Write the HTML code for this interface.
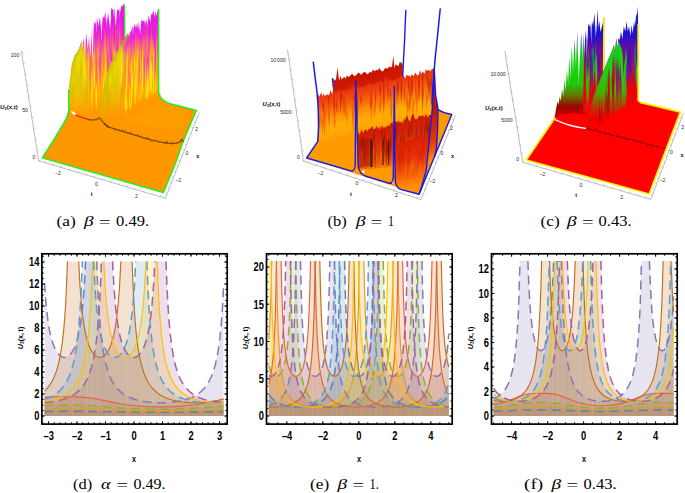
<!DOCTYPE html>
<html><head><meta charset="utf-8"><title>Figure</title>
<style>
html,body{margin:0;padding:0;background:#fff;}
body{width:685px;height:493px;overflow:hidden;font-family:"Liberation Sans",sans-serif;}
svg{display:block;}
</style></head><body>
<svg width="685" height="493" viewBox="0 0 685 493">
<defs>

<linearGradient id="ga" gradientUnits="userSpaceOnUse" x1="0" y1="0" x2="0" y2="125">
<stop offset="0" stop-color="#E312E6"/><stop offset="0.30" stop-color="#EA22DC"/><stop offset="0.42" stop-color="#F65CA0"/>
<stop offset="0.52" stop-color="#FF8838"/><stop offset="0.64" stop-color="#FFB010"/><stop offset="0.76" stop-color="#FFA808"/>
<stop offset="0.88" stop-color="#FF9A00"/><stop offset="1" stop-color="#FF9500"/>
</linearGradient>
<linearGradient id="gav" gradientUnits="userSpaceOnUse" x1="0" y1="-28" x2="0" y2="97">
<stop offset="0" stop-color="#E312E6"/><stop offset="0.30" stop-color="#EA22DC"/><stop offset="0.42" stop-color="#F65CA0"/>
<stop offset="0.52" stop-color="#FF8838"/><stop offset="0.64" stop-color="#FFB010"/><stop offset="0.76" stop-color="#FFA808"/>
<stop offset="0.88" stop-color="#FF9A00"/><stop offset="1" stop-color="#FF9500"/>
</linearGradient>
<linearGradient id="gad" gradientUnits="userSpaceOnUse" x1="0" y1="22" x2="0" y2="147">
<stop offset="0" stop-color="#E312E6"/><stop offset="0.30" stop-color="#EA22DC"/><stop offset="0.42" stop-color="#F65CA0"/>
<stop offset="0.52" stop-color="#FF8838"/><stop offset="0.64" stop-color="#FFB010"/><stop offset="0.76" stop-color="#FFA808"/>
<stop offset="0.88" stop-color="#FF9A00"/><stop offset="1" stop-color="#FF9500"/>
</linearGradient>
<linearGradient id="gay" gradientUnits="userSpaceOnUse" x1="0" y1="40" x2="0" y2="122">
<stop offset="0" stop-color="#E6D800"/><stop offset="0.5" stop-color="#EED800"/><stop offset="0.72" stop-color="#F8B800"/><stop offset="0.9" stop-color="#FF9C00"/><stop offset="1" stop-color="#FF9700"/>
</linearGradient>
<linearGradient id="gaf1" gradientUnits="userSpaceOnUse" x1="68" y1="0" x2="80" y2="0">
<stop offset="0" stop-color="#D0CA00" stop-opacity="0.9"/><stop offset="0.5" stop-color="#E8D800" stop-opacity="0.6"/><stop offset="1" stop-color="#F0DC00" stop-opacity="0"/>
</linearGradient>
<linearGradient id="gaf2" gradientUnits="userSpaceOnUse" x1="101" y1="0" x2="118" y2="-5">
<stop offset="0" stop-color="#CCC600" stop-opacity="0.9"/><stop offset="0.45" stop-color="#E8D800" stop-opacity="0.6"/><stop offset="1" stop-color="#F4DC00" stop-opacity="0"/>
</linearGradient>
<filter id="blur1" x="-20%" y="-50%" width="140%" height="200%"><feGaussianBlur stdDeviation="0.7"/></filter>
<filter id="blur3" x="-50%" y="-20%" width="200%" height="140%"><feGaussianBlur stdDeviation="1.6"/></filter>
<filter id="blur2" x="-20%" y="-20%" width="140%" height="140%"><feGaussianBlur stdDeviation="0.45"/></filter>

<linearGradient id="gbB" gradientUnits="userSpaceOnUse" x1="332.7" y1="76" x2="339.4" y2="105.2"><stop offset="0" stop-color="#C41200"/><stop offset="0.5" stop-color="#D01A00"/><stop offset="1" stop-color="#DC2800"/></linearGradient><linearGradient id="gbL" gradientUnits="userSpaceOnUse" x1="317.8" y1="92" x2="329.4" y2="142.7"><stop offset="0" stop-color="#DC1C00"/><stop offset="0.1" stop-color="#E83410"/><stop offset="0.3" stop-color="#F4580C"/><stop offset="0.5" stop-color="#FF8A08"/><stop offset="0.68" stop-color="#FFAC08"/><stop offset="0.82" stop-color="#FFAA04"/><stop offset="0.95" stop-color="#FF9C00"/><stop offset="1" stop-color="#FF9A00"/></linearGradient><linearGradient id="gbM" gradientUnits="userSpaceOnUse" x1="356" y1="129" x2="366.3" y2="173.8"><stop offset="0" stop-color="#C81800"/><stop offset="0.3" stop-color="#D42408"/><stop offset="0.6" stop-color="#E03808"/><stop offset="0.85" stop-color="#F06008"/><stop offset="1" stop-color="#FF8A00"/></linearGradient><linearGradient id="gbF" gradientUnits="userSpaceOnUse" x1="397" y1="143" x2="407.3" y2="187.8"><stop offset="0" stop-color="#D82000"/><stop offset="0.35" stop-color="#E83008"/><stop offset="0.7" stop-color="#F45C08"/><stop offset="1" stop-color="#FF9000"/></linearGradient>
<linearGradient id="gc" gradientUnits="userSpaceOnUse" x1="0" y1="0" x2="0" y2="118"><stop offset="0" stop-color="#2A22D8"/><stop offset="0.28" stop-color="#1A12D0"/><stop offset="0.42" stop-color="#6A0CA0"/><stop offset="0.56" stop-color="#B00858"/><stop offset="0.72" stop-color="#E00410"/><stop offset="1" stop-color="#FF0000"/></linearGradient><linearGradient id="gcv" gradientUnits="userSpaceOnUse" x1="0" y1="-26" x2="0" y2="92"><stop offset="0" stop-color="#2A22D8"/><stop offset="0.28" stop-color="#1A12D0"/><stop offset="0.42" stop-color="#6A0CA0"/><stop offset="0.56" stop-color="#B00858"/><stop offset="0.72" stop-color="#E00410"/><stop offset="1" stop-color="#FF0000"/></linearGradient><linearGradient id="gcd" gradientUnits="userSpaceOnUse" x1="0" y1="22" x2="0" y2="140"><stop offset="0" stop-color="#2A22D8"/><stop offset="0.28" stop-color="#1A12D0"/><stop offset="0.42" stop-color="#6A0CA0"/><stop offset="0.56" stop-color="#B00858"/><stop offset="0.72" stop-color="#E00410"/><stop offset="1" stop-color="#FF0000"/></linearGradient>
<linearGradient id="gcs" gradientUnits="userSpaceOnUse" x1="0" y1="20" x2="0" y2="120">
<stop offset="0" stop-color="#2018D0"/><stop offset="0.16" stop-color="#1C28C0"/><stop offset="0.28" stop-color="#10B030"/><stop offset="0.4" stop-color="#10D410"/><stop offset="0.64" stop-color="#20C808"/><stop offset="0.76" stop-color="#6A7000"/><stop offset="0.86" stop-color="#980800"/><stop offset="0.95" stop-color="#C00000"/><stop offset="1" stop-color="#F00000"/>
</linearGradient>
<linearGradient id="gcg" gradientUnits="userSpaceOnUse" x1="0" y1="25" x2="0" y2="118">
<stop offset="0" stop-color="#10C820"/><stop offset="0.5" stop-color="#14D810"/><stop offset="0.72" stop-color="#3CB400"/><stop offset="0.86" stop-color="#A84800"/><stop offset="1" stop-color="#F00000"/>
</linearGradient>


</defs>
<rect width="685" height="493" fill="#fff"/>
<g id="p3a">
<path d="M21.3 50.4 L38.6 160.8 L165.3 198.3 L199.3 112.6" fill="none" stroke="#7a7a7a" stroke-width="0.5"/>
<path d="M38.6 160.8 l1.6 0.2 M36.9 150 l1.6 0.2 M35.2 139.1 l1.6 0.2 M33.5 128.3 l1.6 0.2 M31.8 117.5 l1.6 0.2 M30.1 106.7 l1.6 0.2 M28.4 95.8 l1.6 0.2 M26.7 85 l1.6 0.2 M25 74.2 l1.6 0.2 M23.3 63.3 l1.6 0.2 M21.6 52.5 l1.6 0.2" stroke="#7a7a7a" stroke-width="0.4" fill="none"/>
<path d="M45 162.7 l0.5 -1.6 M53.2 165.1 l0.5 -1.6 M61.4 167.6 l0.5 -1.6 M69.6 170 l0.5 -1.6 M77.9 172.4 l0.5 -1.6 M86.1 174.8 l0.5 -1.6 M94.3 177.3 l0.5 -1.6 M102.5 179.7 l0.5 -1.6 M110.7 182.1 l0.5 -1.6 M118.9 184.6 l0.5 -1.6 M127.1 187 l0.5 -1.6 M135.4 189.4 l0.5 -1.6 M143.6 191.8 l0.5 -1.6 M151.8 194.3 l0.5 -1.6 M160 196.7 l0.5 -1.6" stroke="#7a7a7a" stroke-width="0.4" fill="none"/>
<path d="M167 194 l-1.6 -0.6 M169.2 188.5 l-1.6 -0.6 M171.4 183 l-1.6 -0.6 M173.5 177.5 l-1.6 -0.6 M175.7 172 l-1.6 -0.6 M177.9 166.5 l-1.6 -0.6 M180.1 161 l-1.6 -0.6 M182.2 155.5 l-1.6 -0.6 M184.4 150 l-1.6 -0.6 M186.6 144.5 l-1.6 -0.6 M188.8 139 l-1.6 -0.6 M191 133.5 l-1.6 -0.6 M193.1 128 l-1.6 -0.6 M195.3 122.5 l-1.6 -0.6 M197.5 117 l-1.6 -0.6" stroke="#7a7a7a" stroke-width="0.4" fill="none"/>
<text x="15" y="57.4" font-family="Liberation Sans, sans-serif" font-size="5.1" text-anchor="middle" fill="#2a2a2a">100</text>
<text x="25" y="112.3" font-family="Liberation Sans, sans-serif" font-size="5.1" text-anchor="middle" fill="#2a2a2a">50</text>
<text x="34" y="158.6" font-family="Liberation Sans, sans-serif" font-size="5.1" text-anchor="middle" fill="#2a2a2a">0</text>
<text x="0" y="109" font-family="Liberation Sans, sans-serif" font-size="6.0" font-weight="bold" fill="#111"><tspan font-style="italic">U</tspan><tspan font-size="4.2" dy="1">3</tspan><tspan dy="-1">(x,t)</tspan></text>
<text x="58" y="175" font-family="Liberation Sans, sans-serif" font-size="5.1" text-anchor="middle" fill="#2a2a2a">–2</text>
<text x="96.5" y="185.6" font-family="Liberation Sans, sans-serif" font-size="5.1" text-anchor="middle" fill="#2a2a2a">0</text>
<text x="136.3" y="197.8" font-family="Liberation Sans, sans-serif" font-size="5.1" text-anchor="middle" fill="#2a2a2a">2</text>
<text x="91.6" y="196" font-family="Liberation Sans, sans-serif" font-size="5.5" text-anchor="middle" fill="#111" font-weight="bold">t</text>
<text x="178.4" y="182" font-family="Liberation Sans, sans-serif" font-size="5.1" text-anchor="middle" fill="#2a2a2a">–2</text>
<text x="187" y="154.6" font-family="Liberation Sans, sans-serif" font-size="5.1" text-anchor="middle" fill="#2a2a2a">0</text>
<text x="196.5" y="130.7" font-family="Liberation Sans, sans-serif" font-size="5.1" text-anchor="middle" fill="#2a2a2a">2</text>
<text x="197.7" y="157.6" font-family="Liberation Sans, sans-serif" font-size="5.5" text-anchor="middle" fill="#111" font-weight="bold">x</text>
<path d="M42 158 L163.4 192.6 L196.5 110.3 L182 106.8 L170 103.8 L164 100.8 L160.5 97.5 L158.5 93 L158.5 60 L100 60 L70 80 L68.3 93 L68.8 110.6 L66.4 118.7 L55 138Z" fill="#FF9700"/>
<path d="M112 116 L158 102 L188 112 L181 130 L150 126 Z" fill="#FFA600" opacity="0.5" filter="url(#blur3)"/>
<path d="M69 94 L70 80 L72 64 L75 55 L78 51 L80 46 L81.5 41 L82 51.1 L83.6 38.7 L84.9 40.5 L86.3 33.8 L87.8 50.1 L88.8 31.9 L90.2 56.6 L91.9 29 L93.3 29.5 L94.6 21.3 L95.7 23.7 L96.9 17.4 L98.5 26.2 L99.8 16.7 L101.1 28.7 L102.8 15.9 L104.2 18.3 L105.4 10.3 L106.9 23.1 L108.1 12.6 L109.7 27.1 L111.3 7.7 L113 9.8 L114.4 8.6 L115.5 27.2 L117.2 9.6 L118.2 10.8 L119.1 7.7 L120.1 12.5 L121.2 5 L122.2 7.2 L123.4 4.2 L124.2 4 L124.8 8 L125 108 L99 117 L92 119 L80 116.5 L70.4 111.4 L68.6 105Z" fill="url(#ga)"/>
<path d="M121 56.7 L121.8 37.2 L122.7 56.7 L121.8 76.3 Z M89.9 83.5 L90.6 55.7 L91.4 83.5 L90.6 111.3 Z M85.6 88.9 L86.1 70.7 L86.6 88.9 L86.1 107.1 Z M113.2 51.7 L113.7 32.3 L114.1 51.7 L113.7 71.2 Z M85 83 L85.7 64.3 L86.4 83 L85.7 101.6 Z M96.6 74.4 L97.2 45 L97.9 74.4 L97.2 103.8 Z M105.1 65.1 L105.6 47.4 L106 65.1 L105.6 82.9 Z M118.8 59 L119.2 40.3 L119.7 59 L119.2 77.7 Z M111.4 61.4 L112.3 43.5 L113.2 61.4 L112.3 79.4 Z M117.7 58.9 L118.2 37.6 L118.6 58.9 L118.2 80.2 Z M82.8 94.4 L83.6 75.8 L84.3 94.4 L83.6 112.9 Z M92 86.1 L92.5 62.1 L93.1 86.1 L92.5 110 Z M88.7 78.5 L89.2 62.5 L89.7 78.5 L89.2 94.6 Z M104.4 71.8 L104.9 47.6 L105.5 71.8 L104.9 96 Z M119.1 44 L119.6 28.8 L120.1 44 L119.6 59.3 Z M99.7 53.9 L100.3 36.2 L100.9 53.9 L100.3 71.5 Z M104.6 54.7 L105.5 34.2 L106.3 54.7 L105.5 75.1 Z M121.5 60.1 L122.2 34.7 L122.9 60.1 L122.2 85.4 Z M86.9 66.4 L87.8 51.1 L88.6 66.4 L87.8 81.7 Z M110 60.4 L110.7 45.1 L111.5 60.4 L110.7 75.7 Z M100.9 67.2 L101.8 47.4 L102.7 67.2 L101.8 87 Z M84.2 91.1 L85.1 65 L85.9 91.1 L85.1 117.1 Z" fill="url(#gav)" opacity="0.85"/>
<path d="M111.3 66.5 L112.2 42.1 L113.2 66.5 L112.2 90.9 Z M95.5 79.5 L96.4 53.5 L97.3 79.5 L96.4 105.5 Z M98.4 78.6 L99.1 53.2 L99.8 78.6 L99.1 104.1 Z M106.9 59.8 L107.6 38.6 L108.4 59.8 L107.6 81.1 Z M84.4 96.2 L85.3 68.8 L86.2 96.2 L85.3 123.6 Z M111.1 59 L111.9 35.4 L112.6 59 L111.9 82.5 Z M99.2 67.5 L100.1 53.7 L100.9 67.5 L100.1 81.2 Z M82.7 92.2 L83.2 72.5 L83.8 92.2 L83.2 111.9 Z M109.7 60.5 L110.6 38.8 L111.6 60.5 L110.6 82.2 Z M91.7 64.6 L92.5 47.6 L93.3 64.6 L92.5 81.6 Z M89.5 78.6 L90.3 52.5 L91.1 78.6 L90.3 104.7 Z M99.3 72.2 L100.1 54.8 L100.9 72.2 L100.1 89.6 Z M89.2 83 L90.1 58.4 L91.1 83 L90.1 107.6 Z M117.5 56.5 L118.1 35.3 L118.7 56.5 L118.1 77.8 Z M86.7 86.6 L87.6 61.5 L88.5 86.6 L87.6 111.6 Z M110.7 65 L111.2 48.3 L111.7 65 L111.2 81.6 Z M99.8 56.8 L100.5 41.1 L101.1 56.8 L100.5 72.5 Z M106.8 58.3 L107.7 41 L108.6 58.3 L107.7 75.5 Z M121.8 46.5 L122.3 32.9 L122.7 46.5 L122.3 60.2 Z M117 51.2 L117.8 28 L118.5 51.2 L117.8 74.3 Z M94.2 73 L94.7 60.2 L95.2 73 L94.7 85.8 Z M100.1 60.4 L100.6 35.5 L101.2 60.4 L100.6 85.3 Z M87.1 73.5 L87.8 51.5 L88.4 73.5 L87.8 95.4 Z M106.9 69 L107.8 44.4 L108.8 69 L107.8 93.7 Z" fill="url(#gad)" opacity="0.85"/>
<path d="M110.3 35.5 L110.7 14.6 L111.1 35.5 L110.7 56.5 Z M84 71.2 L84.4 47.2 L84.8 71.2 L84.4 95.1 Z M94.1 55.5 L94.6 31.8 L95.1 55.5 L94.6 79.2 Z M107.3 44.4 L108 24.5 L108.6 44.4 L108 64.3 Z M118.8 37.3 L119.3 10.6 L119.9 37.3 L119.3 64 Z M88.4 62.8 L89.1 40 L89.7 62.8 L89.1 85.6 Z M98.1 54 L98.7 28 L99.3 54 L98.7 80 Z M120.4 37.4 L120.8 14.3 L121.2 37.4 L120.8 60.6 Z M111.6 45.1 L112.2 22.1 L112.7 45.1 L112.2 68.2 Z M91.6 71.3 L92.3 44.1 L93 71.3 L92.3 98.6 Z M104.3 46.3 L104.9 27.3 L105.6 46.3 L104.9 65.3 Z M116.9 32.5 L117.4 16.5 L117.9 32.5 L117.4 48.5 Z M105.2 47.7 L105.5 26.6 L105.8 47.7 L105.5 68.8 Z M115.2 37.2 L115.6 12.2 L115.9 37.2 L115.6 62.2 Z M96.7 48.7 L97.1 32 L97.4 48.7 L97.1 65.5 Z M103.6 52.5 L104.1 27 L104.7 52.5 L104.1 78 Z M120.5 41.5 L120.9 14.6 L121.2 41.5 L120.9 68.4 Z M92 57.2 L92.6 38.6 L93.2 57.2 L92.6 75.9 Z" fill="url(#gav)" opacity="0.75"/>
<path d="M83.7 31.8 L85.9 31.8 L84.9 63.8 Z M91.2 23.3 L93.8 23.3 L92.5 63.3 Z M100.5 10.4 L102.5 10.4 L101.8 42.4 Z M109.3 4.1 L111.3 4.1 L110.4 30.1 Z M115.1 3.5 L116.9 3.5 L115.8 25.5 Z M87.7 26 L89.3 26 L88.4 48 Z M105.2 7.4 L106.8 7.4 L106.3 27.4 Z M95.3 15.5 L96.7 15.5 L96.4 33.5 Z M119.3 0.7 L120.7 0.7 L119.7 18.7 Z M112.9 2.2 L114.1 2.2 L113.9 19.2 Z" fill="#fff"/>
<clipPath id="cpa1"><path d="M69 94 L70 80 L72 64 L75 55 L78 51 L80 46 L81.5 41 L82 51.1 L83.6 38.7 L84.9 40.5 L86.3 33.8 L87.8 50.1 L88.8 31.9 L90.2 56.6 L91.9 29 L93.3 29.5 L94.6 21.3 L95.7 23.7 L96.9 17.4 L98.5 26.2 L99.8 16.7 L101.1 28.7 L102.8 15.9 L104.2 18.3 L105.4 10.3 L106.9 23.1 L108.1 12.6 L109.7 27.1 L111.3 7.7 L113 9.8 L114.4 8.6 L115.5 27.2 L117.2 9.6 L118.2 10.8 L119.1 7.7 L120.1 12.5 L121.2 5 L122.2 7.2 L123.4 4.2 L124.2 4 L124.8 8 L125 108 L99 117 L92 119 L80 116.5 L70.4 111.4 L68.6 105Z"/></clipPath>
<g clip-path="url(#cpa1)">
<path d="M66 112 L67 92 L70 76 L74 54 L79 45 L83 44 L86 60 L88 90 L90 112Z" fill="url(#gay)" filter="url(#blur3)"/>
<path d="M121.3 84.4 L121.8 65 L122.3 84.4 L121.8 103.9 Z M104.5 84 L104.9 64.1 L105.3 84 L104.9 103.9 Z M121 81.8 L121.8 64.6 L122.6 81.8 L121.8 99.1 Z M105.5 84.6 L106 63.6 L106.4 84.6 L106 105.6 Z M104.1 85 L105 60.6 L105.9 85 L105 109.4 Z M93.9 76.6 L94.5 62.9 L95.1 76.6 L94.5 90.2 Z M115.3 98.2 L115.8 80 L116.4 98.2 L115.8 116.4 Z M91 92.7 L91.5 68.7 L91.9 92.7 L91.5 116.8 Z M113.9 59.4 L114.4 44.9 L114.9 59.4 L114.4 74 Z M110.1 73.5 L110.8 56.9 L111.5 73.5 L110.8 90.1 Z M87.4 86.8 L88.1 73.2 L88.7 86.8 L88.1 100.4 Z M93.2 70.8 L93.8 51.9 L94.4 70.8 L93.8 89.7 Z M98.2 79.4 L98.7 60.5 L99.1 79.4 L98.7 98.3 Z M91.3 89.6 L92 69.3 L92.6 89.6 L92 109.9 Z M116.7 91.6 L117.2 68.5 L117.7 91.6 L117.2 114.7 Z M112.3 100.2 L112.9 76.4 L113.4 100.2 L112.9 123.9 Z M95.4 95.7 L96.3 80.9 L97.2 95.7 L96.3 110.6 Z M117.9 64.5 L118.6 49.4 L119.4 64.5 L118.6 79.6 Z M93.5 70.7 L94.1 47.9 L94.7 70.7 L94.1 93.5 Z M114.1 66.3 L114.8 49 L115.6 66.3 L114.8 83.5 Z M83.8 72.9 L84.7 52 L85.5 72.9 L84.7 93.8 Z M121 67.2 L121.8 48.6 L122.5 67.2 L121.8 85.8 Z M103.2 85.9 L103.6 71.4 L104 85.9 L103.6 100.3 Z M87.5 64.7 L88.1 45.5 L88.8 64.7 L88.1 83.8 Z M105.7 64.3 L106.2 49.9 L106.7 64.3 L106.2 78.7 Z M116.3 107.7 L116.8 83.6 L117.2 107.7 L116.8 131.7 Z" fill="#FFF200" opacity="0.85" filter="url(#blur2)"/>
<path d="M71.2 97.1 L72.1 82.4 L72.9 97.1 L72.1 111.7 Z M75.8 82.1 L76.6 66.9 L77.3 82.1 L76.6 97.2 Z M80.3 69.4 L81.2 52.4 L82.1 69.4 L81.2 86.4 Z M73.4 83.9 L74.1 66.5 L74.8 83.9 L74.1 101.3 Z M73.8 72.4 L74.3 57.3 L74.8 72.4 L74.3 87.5 Z M85.3 94.7 L86.2 77.7 L87.1 94.7 L86.2 111.7 Z M80.9 80.9 L81.7 64.9 L82.5 80.9 L81.7 96.9 Z M86.7 90.3 L87.7 77.8 L88.7 90.3 L87.7 102.9 Z M83 95 L83.7 76.9 L84.4 95 L83.7 113.2 Z M85.4 97.1 L86.2 80.2 L87.1 97.1 L86.2 114.1 Z M83.5 82.2 L84 65 L84.5 82.2 L84 99.4 Z M76.1 77.1 L76.8 67 L77.5 77.1 L76.8 87.2 Z" fill="#D8A800" opacity="0.55" filter="url(#blur2)"/>
<path d="M79.2 80.3 L80.2 68 L81.2 80.3 L80.2 92.6 Z M79.9 75.4 L80.7 58.8 L81.4 75.4 L80.7 92 Z M77.7 80.5 L78.5 60.5 L79.4 80.5 L78.5 100.5 Z M80.7 92.2 L81.2 72.4 L81.7 92.2 L81.2 112 Z M79.1 84.2 L79.8 71.6 L80.5 84.2 L79.8 96.8 Z M70.3 68 L70.8 54.3 L71.4 68 L70.8 81.8 Z M73.3 92.5 L74 77 L74.8 92.5 L74 108 Z M84.7 86.1 L85.5 66.2 L86.3 86.1 L85.5 106.1 Z" fill="#C8C400" opacity="0.5" filter="url(#blur2)"/>
<path d="M69 94 L70 80 L72 64 L75 55 L78 51 L80 46 L81.5 41" fill="none" stroke="#C4C200" stroke-width="4" opacity="0.8" filter="url(#blur3)"/></g>
<path d="M124.6 5 L124.8 45" stroke="#22EE22" stroke-width="1.3" fill="none"/>
<path d="M99.5 117 L101.2 102.4 L102.4 98 L105 80 L110 66 L117 52 L120 47 L123 41 L128 33 L129 36.7 L130.2 31 L131 31.9 L132.2 25.9 L133.3 28.5 L134.8 24.1 L136 28.5 L137 22.7 L138.1 29.4 L139.2 18.6 L140.1 34.6 L141.5 19.2 L142.9 21.5 L144.4 20 L145.2 23.5 L146.4 18.9 L147.3 26.8 L148.6 15.3 L150.1 21.7 L151 14 L152.1 15 L153.3 10.1 L154.4 16.8 L155.4 10.4 L156.5 16.1 L158.2 8 L158.8 12 L158.8 96 L140 112 L120 126 L108.5 127 L102 120.5Z" fill="url(#ga)"/>
<path d="M154.7 62.6 L155.2 43.4 L155.6 62.6 L155.2 81.8 Z M152.2 72 L152.8 46.1 L153.4 72 L152.8 98 Z M127.9 91.8 L128.6 66.9 L129.3 91.8 L128.6 116.7 Z M142.2 71 L142.7 52.7 L143.2 71 L142.7 89.3 Z M155.8 76.4 L156.2 46 L156.6 76.4 L156.2 106.8 Z M119.7 95.6 L120.4 73.1 L121.1 95.6 L120.4 118 Z M121.6 91 L122 74.8 L122.4 91 L122 107.3 Z M143.8 74.1 L144.4 48.1 L145 74.1 L144.4 100.2 Z M135.9 67.2 L136.7 46.2 L137.4 67.2 L136.7 88.2 Z M149.9 52.2 L150.7 35.1 L151.5 52.2 L150.7 69.3 Z M141.7 71.8 L142.3 53.1 L142.9 71.8 L142.3 90.6 Z M127.3 91.4 L128.1 70 L128.8 91.4 L128.1 112.9 Z M155.8 59.7 L156.6 35.1 L157.4 59.7 L156.6 84.3 Z M153.5 60.2 L153.9 38.8 L154.4 60.2 L153.9 81.7 Z M151.4 50.4 L152.1 34 L152.8 50.4 L152.1 66.9 Z M136.1 74.7 L136.9 54.5 L137.7 74.7 L136.9 95 Z M120.5 97.5 L121 70.9 L121.4 97.5 L121 124.1 Z M129.3 91.4 L129.8 64.2 L130.4 91.4 L129.8 118.5 Z M123 96.3 L123.6 68.6 L124.2 96.3 L123.6 124 Z M121.7 101.6 L122.6 76.6 L123.4 101.6 L122.6 126.5 Z M153.9 69.7 L154.7 47 L155.5 69.7 L154.7 92.3 Z M129 78.8 L129.9 56.8 L130.8 78.8 L129.9 100.8 Z M152.3 57.7 L152.9 36.4 L153.5 57.7 L152.9 79.1 Z M131.7 76.1 L132.2 54.3 L132.7 76.1 L132.2 97.9 Z M139.2 79 L140 54.6 L140.8 79 L140 103.5 Z M139.1 71.7 L139.9 43.4 L140.8 71.7 L139.9 100 Z" fill="url(#gav)" opacity="0.85"/>
<path d="M129.7 70.1 L130.4 49.8 L131.1 70.1 L130.4 90.3 Z M140.1 85.3 L141 63 L141.9 85.3 L141 107.5 Z M121.9 101.7 L122.4 77.4 L122.8 101.7 L122.4 126 Z M122.6 106.6 L123 80.7 L123.5 106.6 L123 132.6 Z M142.7 65.9 L143.5 42.2 L144.3 65.9 L143.5 89.5 Z M128.4 83 L129.1 59 L129.8 83 L129.1 107 Z M147.3 62.8 L148.3 45.2 L149.3 62.8 L148.3 80.4 Z M144 70.3 L144.9 49.7 L145.7 70.3 L144.9 90.8 Z M145.3 77.7 L146.2 59 L147.1 77.7 L146.2 96.4 Z M143.8 83.1 L144.7 58.5 L145.6 83.1 L144.7 107.7 Z M152.2 77 L152.9 54.9 L153.6 77 L152.9 99.1 Z M145.6 75.1 L146.3 56.3 L146.9 75.1 L146.3 93.9 Z M124.8 104.5 L125.4 77.2 L126 104.5 L125.4 131.9 Z M125.6 82 L126.2 63.1 L126.8 82 L126.2 100.8 Z M155.4 48.3 L155.9 31.2 L156.4 48.3 L155.9 65.4 Z M143.5 72.2 L144 57 L144.4 72.2 L144 87.4 Z M136.6 82.3 L137 56.1 L137.4 82.3 L137 108.4 Z M123.5 81.7 L124 65.9 L124.6 81.7 L124 97.4 Z M146 67 L146.5 51.2 L147 67 L146.5 82.9 Z M129.8 77.3 L130.4 53.5 L131 77.3 L130.4 101.2 Z M139.7 79.4 L140.3 59.7 L140.8 79.4 L140.3 99.1 Z M152.1 71.5 L152.8 53.9 L153.6 71.5 L152.8 89.2 Z M155 57.5 L155.4 41.6 L155.8 57.5 L155.4 73.3 Z M154.3 67.8 L155.1 49.5 L155.8 67.8 L155.1 86.1 Z M138.3 74.5 L139.1 47.2 L139.9 74.5 L139.1 101.9 Z M128.2 74.2 L128.8 54.6 L129.4 74.2 L128.8 93.8 Z M149 73.5 L149.5 51.9 L150 73.5 L149.5 95.1 Z M124.9 82.9 L125.8 66.5 L126.7 82.9 L125.8 99.3 Z M138.5 83.2 L139.1 55.8 L139.7 83.2 L139.1 110.6 Z M139.4 68 L139.8 43.9 L140.2 68 L139.8 92 Z M149.9 79.1 L150.4 54.3 L150.8 79.1 L150.4 104 Z M129.3 81.9 L130 67.9 L130.7 81.9 L130 95.8 Z" fill="url(#gad)" opacity="0.85"/>
<path d="M139.9 59.7 L140.5 37.4 L141.2 59.7 L140.5 82 Z M134.7 59 L135.4 38.8 L136.1 59 L135.4 79.2 Z M128.3 67.4 L128.8 49.8 L129.3 67.4 L128.8 85 Z M141.9 50.9 L142.3 25.5 L142.7 50.9 L142.3 76.3 Z M135.1 47.4 L135.6 28.6 L136.1 47.4 L135.6 66.2 Z M147.8 48.5 L148.2 24.9 L148.5 48.5 L148.2 72.1 Z M137.6 58.5 L138.2 31.4 L138.9 58.5 L138.2 85.5 Z M145.7 40.9 L146.3 21.2 L146.9 40.9 L146.3 60.6 Z M133.1 58.6 L133.4 37.8 L133.7 58.6 L133.4 79.3 Z M156.2 41.9 L156.7 24.4 L157.3 41.9 L156.7 59.5 Z M134.6 55.2 L135 33.5 L135.4 55.2 L135 77 Z M136.1 55.5 L136.5 32.1 L136.9 55.5 L136.5 78.8 Z M131.5 60.5 L132.2 41.4 L132.9 60.5 L132.2 79.7 Z M142.8 52 L143.4 32.9 L144.1 52 L143.4 71.2 Z M128.3 56.4 L128.9 40.2 L129.4 56.4 L128.9 72.5 Z M147.3 42.6 L148 22.5 L148.6 42.6 L148 62.6 Z M144 41.3 L144.4 23.4 L144.7 41.3 L144.4 59.1 Z M129.2 56.8 L129.8 40.9 L130.5 56.8 L129.8 72.7 Z M138.6 54.8 L139.2 31.7 L139.8 54.8 L139.2 77.8 Z M151 41.7 L151.5 22.5 L151.9 41.7 L151.5 60.8 Z M125.8 71.1 L126.5 47.4 L127.2 71.1 L126.5 94.9 Z M150.2 49.8 L150.5 27.2 L150.8 49.8 L150.5 72.4 Z M135.9 54.8 L136.3 31.6 L136.6 54.8 L136.3 77.9 Z M137.1 57.3 L137.7 32.4 L138.3 57.3 L137.7 82.2 Z" fill="url(#gav)" opacity="0.75"/>
<path d="M132.4 22.3 L133.6 22.3 L133 36.3 Z M138.8 16.4 L140.2 16.4 L139.5 32.4 Z M144.4 13.8 L145.6 13.8 L145 27.8 Z M149.9 9.9 L151.1 9.9 L150.5 24.9 Z M154.5 6.3 L155.5 6.3 L155 19.3 Z" fill="#fff"/>
<clipPath id="cpa2"><path d="M99.5 117 L101.2 102.4 L102.4 98 L105 80 L110 66 L117 52 L120 47 L123 41 L128 33 L129 36.7 L130.2 31 L131 31.9 L132.2 25.9 L133.3 28.5 L134.8 24.1 L136 28.5 L137 22.7 L138.1 29.4 L139.2 18.6 L140.1 34.6 L141.5 19.2 L142.9 21.5 L144.4 20 L145.2 23.5 L146.4 18.9 L147.3 26.8 L148.6 15.3 L150.1 21.7 L151 14 L152.1 15 L153.3 10.1 L154.4 16.8 L155.4 10.4 L156.5 16.1 L158.2 8 L158.8 12 L158.8 96 L140 112 L120 126 L108.5 127 L102 120.5Z"/></clipPath>
<g clip-path="url(#cpa2)">
<path d="M97 122 L99 100 L103 78 L109 62 L117 48 L122 44 L124 56 L122 80 L120 104 L118 124Z" fill="url(#gay)" filter="url(#blur3)"/>
<path d="M141.8 71.4 L142.6 48.7 L143.5 71.4 L142.6 94.1 Z M139.8 75.8 L140.3 56.8 L140.8 75.8 L140.3 94.8 Z M145.6 102.7 L146.4 83.4 L147.2 102.7 L146.4 121.9 Z M150.2 75.5 L150.9 50.3 L151.6 75.5 L150.9 100.7 Z M126.6 60.9 L127.3 45.5 L128 60.9 L127.3 76.3 Z M145.2 80.8 L145.8 55.8 L146.4 80.8 L145.8 105.8 Z M136.7 72.8 L137.1 47.2 L137.6 72.8 L137.1 98.5 Z M152.8 84.7 L153.5 64.8 L154.1 84.7 L153.5 104.5 Z M129 106.1 L129.8 80.2 L130.6 106.1 L129.8 132 Z M141.7 70.7 L142.3 47.2 L142.8 70.7 L142.3 94.2 Z M152.4 72.1 L153.2 52.1 L154 72.1 L153.2 92.2 Z M126.5 78.1 L126.9 65 L127.3 78.1 L126.9 91.1 Z M125.9 108.6 L126.7 83.5 L127.4 108.6 L126.7 133.8 Z M130.8 92.5 L131.4 70.2 L132 92.5 L131.4 114.8 Z M141.4 88 L141.9 75.8 L142.4 88 L141.9 100.2 Z M136.6 65.4 L137.3 48 L138 65.4 L137.3 82.8 Z M125.7 79.5 L126.4 63.8 L127.1 79.5 L126.4 95.2 Z M131.6 81.5 L132.3 69 L133 81.5 L132.3 94 Z M124.7 102.7 L125.4 82.3 L126 102.7 L125.4 123.1 Z M134.4 89.9 L135.2 68.2 L136 89.9 L135.2 111.5 Z M147 88.3 L147.8 62.4 L148.6 88.3 L147.8 114.3 Z M151 77.3 L151.6 59.2 L152.3 77.3 L151.6 95.3 Z M152.9 83.4 L153.5 64.1 L154.1 83.4 L153.5 102.8 Z M152.7 68.2 L153.5 55.5 L154.2 68.2 L153.5 81 Z M152.5 93.1 L153.3 72.7 L154.1 93.1 L153.3 113.5 Z M130.8 79.9 L131.3 66.9 L131.7 79.9 L131.3 92.9 Z M136.1 80.7 L136.5 63.1 L137 80.7 L136.5 98.2 Z M145.2 79.4 L145.7 64.1 L146.3 79.4 L145.7 94.8 Z M133.8 64.9 L134.6 51.9 L135.5 64.9 L134.6 77.8 Z M155.1 94.1 L155.8 70 L156.4 94.1 L155.8 118.2 Z M149.1 73.8 L149.8 51.3 L150.5 73.8 L149.8 96.2 Z M153 69.2 L153.4 46.1 L153.9 69.2 L153.4 92.3 Z M139.4 93.9 L139.9 81.9 L140.4 93.9 L139.9 106 Z M130.2 68.5 L131.1 55.6 L131.9 68.5 L131.1 81.4 Z M149.5 75.7 L150.2 58.7 L150.9 75.7 L150.2 92.7 Z M121.1 67.9 L121.7 43.3 L122.3 67.9 L121.7 92.5 Z" fill="#FFF200" opacity="0.85" filter="url(#blur2)"/>
<path d="M113.2 109.4 L114 89.6 L114.7 109.4 L114 129.2 Z M107.2 85.9 L108.1 66.6 L109.1 85.9 L108.1 105.1 Z M107.2 99.7 L107.9 86.2 L108.6 99.7 L107.9 113.2 Z M106.8 107.6 L107.4 87.7 L108 107.6 L107.4 127.6 Z M116.1 81.7 L116.6 62.9 L117.2 81.7 L116.6 100.5 Z M105.2 95.3 L106.1 82.1 L107.1 95.3 L106.1 108.4 Z M120.5 93 L121.4 81.7 L122.2 93 L121.4 104.4 Z M122.1 82.8 L122.8 72 L123.4 82.8 L122.8 93.6 Z M109.6 93.5 L110.1 81.6 L110.7 93.5 L110.1 105.5 Z M108 97.8 L108.7 79.9 L109.4 97.8 L108.7 115.7 Z M116.6 103.7 L117.2 87.8 L117.9 103.7 L117.2 119.6 Z M109.4 106 L110 89.4 L110.7 106 L110 122.7 Z M116.1 79.1 L116.8 59.2 L117.5 79.1 L116.8 98.9 Z M113.8 85.6 L114.6 75.1 L115.4 85.6 L114.6 96 Z" fill="#D8A800" opacity="0.55" filter="url(#blur2)"/>
<path d="M107.3 79.1 L107.8 61 L108.4 79.1 L107.8 97.1 Z M107.2 91.7 L107.8 79.2 L108.5 91.7 L107.8 104.1 Z M111.3 77.7 L112.3 58.7 L113.3 77.7 L112.3 96.6 Z M102.9 86.1 L103.6 68.6 L104.3 86.1 L103.6 103.6 Z M118 81.8 L118.8 70 L119.6 81.8 L118.8 93.6 Z M113.1 81.5 L114 64.9 L114.9 81.5 L114 98.1 Z M110.9 88.7 L111.8 70.2 L112.6 88.7 L111.8 107.1 Z M111 98 L111.8 86.3 L112.7 98 L111.8 109.7 Z" fill="#C8C400" opacity="0.5" filter="url(#blur2)"/>
<path d="M99.5 117 L101.2 102.4 L102.4 98 L105 80 L110 66 L117 52 L120 47 L123 41 L128 33" fill="none" stroke="#C0BE00" stroke-width="4.5" opacity="0.85" filter="url(#blur3)"/></g>
<path d="M103 122 L108.5 127.5 L120 126.5 L140 114 L159 99 L159 90 L138 103 L120 114 L106 114 Z" fill="#FF9800" opacity="0.9" filter="url(#blur3)"/>
<path d="M88 119.5 Q95 121 99.5 118 Q103 123 109 127.5" fill="none" stroke="#7a4a00" stroke-width="1.6" opacity="0.75" filter="url(#blur1)"/>
<path d="M104 123.5 L108 126.8 L118 129.8 L128 133 L140 136.6 L150 139.6 L159.6 141.9 L168 143.2 L176 143.4 L180 142 L182.3 139" fill="none" stroke="#5a3000" stroke-width="1.4" opacity="0.72" filter="url(#blur2)" stroke-linejoin="round"/>
<path d="M122.6 131.3 l0.1 -2 M147.1 138.7 l-0.3 -1.5 M146.8 138.6 l0.4 1.5 M125 132 l0.6 -1.9 M167.9 143.2 l-0.4 -1.9 M150.9 139.8 l0.4 2.1 M166.8 143 l-0.6 -2.3 M148.4 139.1 l0.1 -1.9 M115.5 129 l-0.1 2.2 M159.3 141.8 l0.3 1.3 M164.5 142.7 l-0.4 1.5 M143.8 137.7 l0.2 1.3 M138.3 136.1 l-0.2 -2 M173.3 143.3 l-0.4 -1.4 M141.1 136.9 l0.3 -1.2 M138.2 136.1 l0 -1.7 M131.1 133.9 l-0.1 -2.4 M155.5 140.9 l0.3 -1.6 M119.6 130.3 l0.4 1.8 M171.7 143.3 l-0.2 2.3 M171.1 143.3 l-0.3 -1.7 M153.6 140.5 l-0.5 1.9" stroke="#6a3c00" stroke-width="0.7" opacity="0.7" fill="none"/>
<path d="M68.7 90 L68.9 110.6 L66.4 118.7 L55 138 L42.3 157.9 L163.4 192.5 L176 162 L183 141 L196.4 110.4 L182 106.8 L170 103.8 L164 100.8 L160.6 97.5 L158.6 93 L158.6 9" fill="none" stroke="#1FEF1F" stroke-width="1.5" stroke-linejoin="round"/>
<path d="M70.5 111 L74.5 112 L76.5 115.5 L72.5 114 Z" fill="#fff"/>
<path d="M75.5 115.3 L90 120" stroke="#E81010" stroke-width="1.2" fill="none"/>
<path d="M182 139 l1.5 3" stroke="#D01010" stroke-width="1" fill="none"/>
</g>
<g id="p3b">
<path d="M287.5 49.5 L303.5 161.2 L421 199.6 L455.5 115.5" fill="none" stroke="#7a7a7a" stroke-width="0.5"/>
<path d="M303.5 161.2 l1.6 0.2 M302.1 151 l1.6 0.2 M300.6 140.8 l1.6 0.2 M299.1 130.5 l1.6 0.2 M297.7 120.3 l1.6 0.2 M296.2 110.1 l1.6 0.2 M294.8 99.9 l1.6 0.2 M293.4 89.7 l1.6 0.2 M291.9 79.4 l1.6 0.2 M290.4 69.2 l1.6 0.2 M289 59 l1.6 0.2" stroke="#7a7a7a" stroke-width="0.4" fill="none"/>
<path d="M309 163 l0.5 -1.6 M316.7 165.5 l0.5 -1.6 M324.4 168.1 l0.5 -1.6 M332.1 170.6 l0.5 -1.6 M339.9 173.1 l0.5 -1.6 M347.6 175.6 l0.5 -1.6 M355.3 178.2 l0.5 -1.6 M363 180.7 l0.5 -1.6 M370.7 183.2 l0.5 -1.6 M378.4 185.8 l0.5 -1.6 M386.1 188.3 l0.5 -1.6 M393.9 190.8 l0.5 -1.6 M401.6 193.3 l0.5 -1.6 M409.3 195.9 l0.5 -1.6 M417 198.4 l0.5 -1.6" stroke="#7a7a7a" stroke-width="0.4" fill="none"/>
<path d="M423 195 l-1.6 -0.6 M425.2 189.6 l-1.6 -0.6 M427.4 184.3 l-1.6 -0.6 M429.5 178.9 l-1.6 -0.6 M431.7 173.6 l-1.6 -0.6 M433.9 168.2 l-1.6 -0.6 M436.1 162.9 l-1.6 -0.6 M438.2 157.5 l-1.6 -0.6 M440.4 152.1 l-1.6 -0.6 M442.6 146.8 l-1.6 -0.6 M444.8 141.4 l-1.6 -0.6 M447 136.1 l-1.6 -0.6 M449.1 130.7 l-1.6 -0.6 M451.3 125.4 l-1.6 -0.6 M453.5 120 l-1.6 -0.6" stroke="#7a7a7a" stroke-width="0.4" fill="none"/>
<path d="M306.5 158 L419.1 194.3 L451.8 114.2 L437.8 110 L432 103 L400 100 L340 110 L317.8 120 L317.8 141.3Z" fill="#FF9A00"/>
<path d="M333 76.9 L334 80.9 L335 78.9 L335.9 80.5 L337.5 67.6 L339.1 80.9 L340.4 75.7 L341.7 79.5 L343.3 77.7 L344.6 77 L345.6 78.7 L346.9 75.4 L348.4 77.1 L350.2 75.8 L352.3 73.6 L353.2 75.6 L355 76 L356.5 74.8 L358.6 72.5 L359.8 73.5 L361.3 75 L362.5 73.2 L364.5 71.8 L366.3 73.2 L367.7 74.4 L369.6 72.1 L371.5 72.6 L373.1 69.5 L374.6 71.3 L376.5 69.8 L377.6 70.5 L379.3 67.9 L380.9 70.5 L382.9 71.5 L384.6 68.7 L385.9 68.1 L387.8 68.8 L389 66.4 L390.5 67.5 L392.1 66.2 L393.3 55.7 L394.5 68.2 L395.5 64.4 L396.5 64.8 L398.5 66.2 L399.6 62.2 L401.5 62.6 L402.5 65.2 L402.8 64 L403 100 L334 110Z" fill="url(#gbB)"/>
<path d="M405.8 10.5 L404.6 40 L403.4 62 L402.6 78" fill="none" stroke="#1A1AE8" stroke-width="1.4" stroke-linecap="round"/>
<path d="M332.4 78.3 L333.2 86 L334.2 92" fill="none" stroke="#1A1AE8" stroke-width="1.4"/>
<path d="M317.8 92.5 L319.2 97.1 L321.3 92.3 L322.3 97.6 L323.2 93.4 L324.4 95.4 L325.8 95.4 L327 94.3 L328.9 95.5 L330.6 90.6 L332.3 94.6 L333.7 85 L335.8 93.1 L337 90.8 L338.5 90.8 L340 89.7 L341.8 90.6 L343.1 90.1 L344.6 88.3 L345.5 91.3 L346.6 88.7 L348.7 87.6 L349.6 90.9 L351.3 84.8 L353 84.5 L354 86.6 L355.7 87 L357.6 83.7 L359.3 87.5 L360.9 85.8 L361.9 88 L363.8 84.9 L364.9 87.3 L366.3 83.4 L367.9 83.7 L369.5 81.7 L370.6 84.9 L372.1 84.6 L373.3 82.7 L374.9 84.2 L377 82.1 L378.7 82.5 L380.7 79.4 L382 82.9 L383.9 80.6 L385 72.1 L386.9 81.8 L388.7 77.9 L390.8 80.8 L392.3 80.8 L394 80.5 L395.6 78.4 L396.9 78.4 L398.2 78.9 L400.2 74.9 L402.3 77.1 L403.3 75.4 L405.4 78.6 L406.5 74.5 L408 76.1 L409.4 75.6 L410.4 77.1 L411.7 74.4 L413.6 76 L415.5 72.6 L417 75.4 L419 74.8 L419.9 70.1 L421.3 74.3 L422.5 71.4 L424.6 73.8 L425.8 69.3 L427.7 71.3 L428.5 69.5 L430.5 71.4 L431.7 68.9 L433.8 69.2 L434 68.5 L435 100 L437 111 L400 128 L356 140 L317.8 148Z" fill="url(#gbL)"/>
<clipPath id="cpbL"><path d="M317.8 92.5 L319.2 97.1 L321.3 92.3 L322.3 97.6 L323.2 93.4 L324.4 95.4 L325.8 95.4 L327 94.3 L328.9 95.5 L330.6 90.6 L332.3 94.6 L333.7 85 L335.8 93.1 L337 90.8 L338.5 90.8 L340 89.7 L341.8 90.6 L343.1 90.1 L344.6 88.3 L345.5 91.3 L346.6 88.7 L348.7 87.6 L349.6 90.9 L351.3 84.8 L353 84.5 L354 86.6 L355.7 87 L357.6 83.7 L359.3 87.5 L360.9 85.8 L361.9 88 L363.8 84.9 L364.9 87.3 L366.3 83.4 L367.9 83.7 L369.5 81.7 L370.6 84.9 L372.1 84.6 L373.3 82.7 L374.9 84.2 L377 82.1 L378.7 82.5 L380.7 79.4 L382 82.9 L383.9 80.6 L385 72.1 L386.9 81.8 L388.7 77.9 L390.8 80.8 L392.3 80.8 L394 80.5 L395.6 78.4 L396.9 78.4 L398.2 78.9 L400.2 74.9 L402.3 77.1 L403.3 75.4 L405.4 78.6 L406.5 74.5 L408 76.1 L409.4 75.6 L410.4 77.1 L411.7 74.4 L413.6 76 L415.5 72.6 L417 75.4 L419 74.8 L419.9 70.1 L421.3 74.3 L422.5 71.4 L424.6 73.8 L425.8 69.3 L427.7 71.3 L428.5 69.5 L430.5 71.4 L431.7 68.9 L433.8 69.2 L434 68.5 L435 100 L437 111 L400 128 L356 140 L317.8 148Z"/></clipPath>
<g clip-path="url(#cpbL)">
<path d="M360.3 99.1 L361.1 93.3 L361.9 99.1 L361.1 107.8 Z M355.3 101.6 L355.8 91 L356.4 101.6 L355.8 117.6 Z M417.9 85.2 L418.4 73.4 L419 85.2 L418.4 102.8 Z M328.2 99.4 L328.9 93.2 L329.6 99.4 L328.9 108.9 Z M333.3 102.9 L334.2 90.4 L335.1 102.9 L334.2 121.5 Z M375.1 98.8 L375.6 86.7 L376.1 98.8 L375.6 116.9 Z M322.4 106.8 L323.3 101.1 L324.1 106.8 L323.3 115.2 Z M389.7 93.6 L390.5 88 L391.3 93.6 L390.5 102 Z M353.3 98.5 L354.3 92.7 L355.3 98.5 L354.3 107.3 Z M427.9 85.8 L429 74.8 L430.1 85.8 L429 102.2 Z M415.3 91.2 L415.9 81.7 L416.4 91.2 L415.9 105.4 Z M409.4 94.6 L410.2 83.4 L410.9 94.6 L410.2 111.4 Z M430 83.5 L431.1 75.4 L432.1 83.5 L431.1 95.6 Z M343.5 103.2 L344 90.3 L344.5 103.2 L344 122.4 Z M417.9 85.2 L418.9 75.1 L419.9 85.2 L418.9 100.5 Z M421.8 78.1 L422.7 71.7 L423.6 78.1 L422.7 87.6 Z M343.4 99.4 L344 92.9 L344.6 99.4 L344 109.1 Z M383.1 86.1 L383.8 78.4 L384.6 86.1 L383.8 97.7 Z M328.5 114.5 L329 101.7 L329.5 114.5 L329 133.7 Z M411.1 85.1 L411.6 73.7 L412.1 85.1 L411.6 102.3 Z M403.9 93.6 L404.5 85.9 L405.1 93.6 L404.5 105.1 Z M356.9 107.7 L357.5 95.8 L358.1 107.7 L357.5 125.4 Z M421.4 92.3 L422.6 79 L423.8 92.3 L422.6 112.1 Z M335.7 104.7 L336.4 98.9 L337 104.7 L336.4 113.4 Z M379.5 89.1 L380.2 81.8 L381 89.1 L380.2 100.1 Z M370.4 103.7 L371.3 93.4 L372.2 103.7 L371.3 119.1 Z M400.4 88.2 L401.4 76.2 L402.5 88.2 L401.4 106.3 Z M411.9 87.3 L412.5 77.3 L413 87.3 L412.5 102.2 Z M370.1 102.8 L371.2 89.6 L372.3 102.8 L371.2 122.6 Z M356.2 106.9 L357.4 94.4 L358.5 106.9 L357.4 125.6 Z M396.4 91.8 L396.9 79.2 L397.5 91.8 L396.9 110.7 Z M382.9 96.8 L383.8 84.1 L384.8 96.8 L383.8 115.7 Z M340.2 95.8 L341.3 89.9 L342.3 95.8 L341.3 104.6 Z M408 84.5 L408.9 77.1 L409.7 84.5 L408.9 95.6 Z M340 103.4 L340.7 95.1 L341.4 103.4 L340.7 116 Z M397.3 86.1 L398.2 77.8 L399.1 86.1 L398.2 98.5 Z M426.6 77.7 L427.3 69.7 L427.9 77.7 L427.3 89.8 Z M353.9 103.5 L354.5 91.3 L355.2 103.5 L354.5 121.7 Z M400.5 89.8 L401.4 79.6 L402.2 89.8 L401.4 105.1 Z M387.2 89.8 L387.9 79.2 L388.7 89.8 L387.9 105.6 Z" fill="#B01000" opacity="0.55"/>
<path d="M407.6 109.5 L409 103.2 L410.3 109.5 L409 118.9 Z M337.6 116 L338.8 111.4 L339.9 116 L338.8 123.1 Z M327.8 128.3 L328.7 123.8 L329.5 128.3 L328.7 135.1 Z M388.8 105.9 L390.2 99.5 L391.6 105.9 L390.2 115.5 Z M401.4 110.9 L402.4 101.8 L403.5 110.9 L402.4 124.5 Z M410.9 105.1 L412.1 98.9 L413.2 105.1 L412.1 114.3 Z M405.3 110 L406.3 105.2 L407.2 110 L406.3 117.3 Z M353.7 115.3 L354.9 110.6 L356.1 115.3 L354.9 122.3 Z M333.3 121.2 L334.4 117.1 L335.6 121.2 L334.4 127.4 Z M389.1 109.5 L390.5 100.2 L391.9 109.5 L390.5 123.5 Z M404.4 115 L405 107 L405.6 115 L405 126.9 Z M348.6 116.1 L349.7 111.9 L350.8 116.1 L349.7 122.2 Z M385.8 113.3 L386.6 105.1 L387.4 113.3 L386.6 125.6 Z M349.3 115.3 L350.6 110 L351.9 115.3 L350.6 123.3 Z M373.7 121.9 L374.8 113.1 L376 121.9 L374.8 135.2 Z M359 124.2 L359.9 119.8 L360.8 124.2 L359.9 130.9 Z M419.4 107.6 L420.7 101.7 L421.9 107.6 L420.7 116.6 Z M404.8 111.2 L405.9 105.7 L407.1 111.2 L405.9 119.4 Z M392.7 116.9 L394.1 110.1 L395.4 116.9 L394.1 127.2 Z M400.8 106.7 L401.5 99.5 L402.3 106.7 L401.5 117.6 Z M388.7 113.5 L389.6 103.9 L390.5 113.5 L389.6 127.9 Z M408.5 112.5 L409.6 106.4 L410.7 112.5 L409.6 121.6 Z M343.8 121.4 L345 115 L346.2 121.4 L345 131.1 Z M375.9 112.2 L376.9 104.5 L378 112.2 L376.9 123.6 Z M377.8 116.9 L378.9 108.1 L380 116.9 L378.9 130.2 Z M393.8 111.4 L394.7 105.2 L395.7 111.4 L394.7 120.8 Z M396 108.2 L396.7 103.8 L397.5 108.2 L396.7 114.8 Z M323.3 121.3 L324.2 115.2 L325.1 121.3 L324.2 130.3 Z M370 111.8 L370.9 106.5 L371.9 111.8 L370.9 119.8 Z M350.5 118.6 L351.7 111.8 L352.9 118.6 L351.7 128.7 Z" fill="#FFB000" opacity="0.55"/>
<path d="M323.8 112.6 L325 104.6 L326.3 112.6 L325 124.6 Z M390.2 106.6 L391.3 94.8 L392.4 106.6 L391.3 124.3 Z M413 102.3 L413.7 97.2 L414.5 102.3 L413.7 109.9 Z M409.1 102.2 L409.7 90.9 L410.4 102.2 L409.7 119.1 Z M425.6 98.4 L426.8 90.6 L428 98.4 L426.8 110 Z M379 105 L380.1 98.9 L381.3 105 L380.1 114.2 Z M334.4 112.3 L335 106.9 L335.6 112.3 L335 120.4 Z M351.6 106.9 L352.5 98.7 L353.3 106.9 L352.5 119.1 Z M319.3 119.8 L320.1 112.9 L320.9 119.8 L320.1 130.1 Z M379.5 101.9 L380.8 96.7 L382 101.9 L380.8 109.7 Z M429.7 93.1 L430.7 83.6 L431.7 93.1 L430.7 107.4 Z M346 114.6 L346.8 107.9 L347.6 114.6 L346.8 124.7 Z M369.3 100.9 L370.6 94.5 L371.9 100.9 L370.6 110.6 Z M406.5 102.5 L407.3 90.5 L408.2 102.5 L407.3 120.4 Z M415.8 99.4 L416.7 88.2 L417.7 99.4 L416.7 116.3 Z M418.3 92.3 L419.1 84.7 L420 92.3 L419.1 103.7 Z M407.8 104.5 L408.7 98.7 L409.6 104.5 L408.7 113.2 Z M337.4 108.1 L338 102.4 L338.7 108.1 L338 116.7 Z M351.9 116.1 L353 104.7 L354.1 116.1 L353 133 Z M405.4 97.9 L406.3 90.7 L407.1 97.9 L406.3 108.5 Z M343.7 106.8 L345 100 L346.2 106.8 L345 117 Z M322.8 119.2 L323.9 112.7 L325.1 119.2 L323.9 128.9 Z M321.5 123.2 L322.4 113.1 L323.3 123.2 L322.4 138.2 Z M333.4 121.3 L334.6 116.3 L335.9 121.3 L334.6 128.7 Z M412 109.1 L412.9 98.1 L413.8 109.1 L412.9 125.6 Z M389.8 105.6 L390.6 96.6 L391.5 105.6 L390.6 119.1 Z M416.5 96.7 L417.1 87.9 L417.8 96.7 L417.1 110 Z M323.9 125.9 L324.8 118.6 L325.7 125.9 L324.8 137 Z M431.4 96.9 L432.3 90.9 L433.3 96.9 L432.3 105.7 Z M373.2 109.4 L374 102.6 L374.8 109.4 L374 119.5 Z" fill="#F04808" opacity="0.6"/>
</g>
<path d="M313.3 62.2 L315.2 78 L317 92 L318.3 110 L318.7 126 L317.8 141.3" fill="none" stroke="#1A1AE8" stroke-width="1.5" stroke-linejoin="round" stroke-linecap="round"/>
<path d="M440.2 9 L437.6 35 L435.2 58 L434 72 L432.6 90 L432 104" fill="none" stroke="#1A1AE8" stroke-width="1.5" stroke-linejoin="round" stroke-linecap="round"/>
<path d="M357.5 169.5 L357.2 136 L358 131.7 L359.7 135.1 L361.2 129.4 L363.2 133 L365 129.2 L366 129.7 L367.1 131.5 L368.8 128.7 L370.1 129.1 L372 126 L373.6 129.6 L375.3 128.6 L376.4 125.7 L377.9 128.9 L379.3 126.6 L380.2 130.1 L381.5 125.6 L383.3 127.8 L384.4 126.7 L385.3 127.9 L387.2 125.7 L389.1 125.7 L390.8 123.4 L392.4 121.9 L393.5 125.1 L394.9 120.9 L396.4 121.6 L397.6 122.4 L398.5 120.3 L400 122.9 L401.2 121.6 L403 123.3 L404 118 L405.1 120.2 L406.8 114.7 L408.4 119.8 L410.2 121.6 L411.3 116.4 L413.2 113.5 L415 119.1 L415.9 119.3 L417.4 118.8 L419.3 115.6 L420.4 116.6 L422.3 115 L424.3 117.3 L426 113.9 L427.8 117.6 L429.3 115 L431 115 L432.5 118 L433.5 150 L428 160 L395 167 L376 168.5Z" fill="url(#gbM)"/>
<clipPath id="cpbM"><path d="M357.5 169.5 L357.2 136 L358 131.7 L359.7 135.1 L361.2 129.4 L363.2 133 L365 129.2 L366 129.7 L367.1 131.5 L368.8 128.7 L370.1 129.1 L372 126 L373.6 129.6 L375.3 128.6 L376.4 125.7 L377.9 128.9 L379.3 126.6 L380.2 130.1 L381.5 125.6 L383.3 127.8 L384.4 126.7 L385.3 127.9 L387.2 125.7 L389.1 125.7 L390.8 123.4 L392.4 121.9 L393.5 125.1 L394.9 120.9 L396.4 121.6 L397.6 122.4 L398.5 120.3 L400 122.9 L401.2 121.6 L403 123.3 L404 118 L405.1 120.2 L406.8 114.7 L408.4 119.8 L410.2 121.6 L411.3 116.4 L413.2 113.5 L415 119.1 L415.9 119.3 L417.4 118.8 L419.3 115.6 L420.4 116.6 L422.3 115 L424.3 117.3 L426 113.9 L427.8 117.6 L429.3 115 L431 115 L432.5 118 L433.5 150 L428 160 L395 167 L376 168.5Z"/></clipPath>
<g clip-path="url(#cpbM)">
<path d="M415.8 131.4 L416.4 125.2 L417 131.4 L416.4 140.7 Z M374.4 154.3 L375.1 142.2 L375.9 154.3 L375.1 172.5 Z M389.8 148.1 L390.6 138.5 L391.3 148.1 L390.6 162.6 Z M396 134.3 L396.6 124.2 L397.2 134.3 L396.6 149.6 Z M394.9 129.3 L396 123.4 L397.1 129.3 L396 138.2 Z M393.7 133.3 L394.9 124.5 L396.1 133.3 L394.9 146.4 Z M383.1 138.3 L384.4 128.9 L385.6 138.3 L384.4 152.5 Z M402.2 138.1 L403 127.5 L403.7 138.1 L403 154 Z M425.3 125.9 L426.2 118.5 L427.1 125.9 L426.2 136.9 Z M416 139.8 L416.5 128.9 L417 139.8 L416.5 156.2 Z M415.7 137.8 L416.4 131.2 L417 137.8 L416.4 147.7 Z M373 135.9 L373.9 129.2 L374.8 135.9 L373.9 146.1 Z M407.7 135.8 L408.7 125.9 L409.8 135.8 L408.7 150.7 Z M417.3 143 L418.2 131.7 L419.1 143 L418.2 159.8 Z M360.8 141.8 L362.1 134.7 L363.4 141.8 L362.1 152.6 Z M410.3 128.3 L411.1 120 L412 128.3 L411.1 140.7 Z M402.8 143.5 L403.9 135.3 L404.9 143.5 L403.9 155.9 Z M387 147.6 L388.1 138 L389.2 147.6 L388.1 162.1 Z M399.8 143.7 L400.6 132 L401.4 143.7 L400.6 161.1 Z M389.6 144.2 L390.6 132.9 L391.6 144.2 L390.6 161.2 Z M383.4 142 L384.2 132.4 L385 142 L384.2 156.5 Z M380.8 132.4 L381.4 126.3 L382.1 132.4 L381.4 141.6 Z M363.6 148.7 L364.4 135.4 L365.2 148.7 L364.4 168.8 Z M423.6 138.6 L424.6 125.6 L425.6 138.6 L424.6 158.2 Z M427.4 132.9 L427.9 126.6 L428.4 132.9 L427.9 142.2 Z M426.9 130 L428.2 119.2 L429.4 130 L428.2 146.2 Z M429 129.9 L430 121.6 L431 129.9 L430 142.2 Z M408.4 132 L408.9 120 L409.4 132 L408.9 150 Z M385.1 150.2 L386.3 137.5 L387.5 150.2 L386.3 169.3 Z M420.3 131.7 L421.1 122.7 L422 131.7 L421.1 145.2 Z" fill="#901000" opacity="0.6"/>
<path d="M394.7 146 L395.7 140.2 L396.7 146 L395.7 154.6 Z M358.3 159.1 L359.4 154.8 L360.4 159.1 L359.4 165.6 Z M361.1 154.1 L362.3 147.9 L363.5 154.1 L362.3 163.4 Z M429.2 148.4 L430.2 140.5 L431.1 148.4 L430.2 160.3 Z M394.5 154.1 L395.8 145.4 L397.1 154.1 L395.8 167.1 Z M357.6 164.3 L358.9 156.8 L360.3 164.3 L358.9 175.4 Z M425.1 141.6 L425.9 135.6 L426.7 141.6 L425.9 150.6 Z M370.8 164.2 L372 156.6 L373.3 164.2 L372 175.5 Z M380.6 156.5 L381.6 152.4 L382.6 156.5 L381.6 162.6 Z M380.2 153.9 L380.8 145.2 L381.4 153.9 L380.8 167.1 Z M426.8 148.3 L427.7 139.5 L428.6 148.3 L427.7 161.4 Z M422.6 145.4 L423.7 138.6 L424.8 145.4 L423.7 155.5 Z M376.5 155.8 L377.1 151 L377.7 155.8 L377.1 163.1 Z M409.9 141.9 L410.6 133.4 L411.4 141.9 L410.6 154.5 Z M423.6 142 L424.5 134.5 L425.4 142 L424.5 153.1 Z M407.9 141.5 L408.7 136.4 L409.5 141.5 L408.7 149.1 Z M428.3 148.6 L429.7 142.7 L431.1 148.6 L429.7 157.4 Z M425.5 138.4 L426.2 131.4 L427 138.4 L426.2 148.9 Z M382.1 149.7 L383.2 144.7 L384.2 149.7 L383.2 157.4 Z M373.1 152.1 L373.9 147.4 L374.7 152.1 L373.9 159.1 Z M413.8 145.3 L414.5 136.7 L415.2 145.3 L414.5 158.3 Z M359.2 156 L360 149.5 L360.9 156 L360 165.7 Z" fill="#F87008" opacity="0.6"/>
<path d="M370 141 L371.4 138 L372.8 142 L372.6 167 L370.2 167 Z M382.3 141 L383 138 L383.8 141 L383.6 165 L382.4 165 Z M387.8 142 L388.6 139 L389.4 142 L389.2 165 L388 165 Z" fill="#3c1400" opacity="0.85" filter="url(#blur2)"/>
<path d="M359 140 L369 138 L369.5 166 L359 168 Z" fill="#A00C00" opacity="0.5" filter="url(#blur2)"/>
</g>
<path d="M434 157 L451.8 114.5 L444 112.6 L438 109 L437.6 130 L436.4 149 Z" fill="#FF9A00"/>
<path d="M427.3 173.5 L428.2 150.7 L430.2 130.4 L432.2 108 L433.7 85 L434.3 70 L435.6 95 L438 108.5 L437.6 130 L436.4 149 L434.4 157 Z" fill="url(#gbM)"/>
<path d="M395.4 143.8 L404 141 L412 139.2 L420 136.8 L428.2 134.5 L428.5 150 L426.1 171 L419.1 194.3 L399.8 189.2 L395 181Z" fill="url(#gbF)"/>
<clipPath id="cpbF"><path d="M395.4 143.8 L404 141 L412 139.2 L420 136.8 L428.2 134.5 L428.5 150 L426.1 171 L419.1 194.3 L399.8 189.2 L395 181Z"/></clipPath>
<g clip-path="url(#cpbF)">
<path d="M408.8 160.8 L409.6 151 L410.4 160.8 L409.6 175.6 Z M422.7 150.8 L423.5 141.5 L424.4 150.8 L423.5 164.7 Z M419.2 154.2 L419.9 145.4 L420.7 154.2 L419.9 167.3 Z M399 159.4 L400.2 148.4 L401.5 159.4 L400.2 176 Z M408.5 149.7 L409.8 142.8 L411 149.7 L409.8 160 Z M400.8 155.8 L401.7 149.7 L402.7 155.8 L401.7 164.9 Z M407 166.3 L408 154.4 L408.9 166.3 L408 184.1 Z M421.1 154.3 L422.2 145.7 L423.4 154.3 L422.2 167.1 Z M398 158.6 L399 147.7 L400 158.6 L399 174.9 Z M417 157.4 L417.8 146.4 L418.6 157.4 L417.8 173.9 Z M402.2 158.9 L403.1 147.7 L404.1 158.9 L403.1 175.6 Z M419 155.4 L420.1 147.6 L421.3 155.4 L420.1 167.1 Z" fill="#C01400" opacity="0.35"/>
<path d="M419.9 167.2 L420.8 160.3 L421.8 167.2 L420.8 177.7 Z M410 166 L411.2 158.8 L412.4 166 L411.2 176.9 Z M404.6 170.2 L405.4 164.1 L406.2 170.2 L405.4 179.4 Z M423.9 166.9 L424.9 162.4 L425.8 166.9 L424.9 173.6 Z M407.1 167 L408.1 162.4 L409.2 167 L408.1 173.9 Z M407.5 171.9 L408.4 167.2 L409.4 171.9 L408.4 178.9 Z M409.7 170.1 L410.9 165.8 L412 170.1 L410.9 176.7 Z M412.1 163.7 L413.2 158.8 L414.4 163.7 L413.2 171.1 Z" fill="#FF8A08" opacity="0.35"/>
</g>
<path d="M361.5 171.6 L364.5 170 L364 174 Z M391 181.6 L393.4 180.4 L393 184 Z" fill="#fff"/>
<path d="M359.8 172.8 l3 1.6 M389.2 182.6 l3 1.2" stroke="#E81010" stroke-width="1" fill="none"/>
<path d="M317.8 141.3 L306.6 158 L351 170.8 Q354.6 171.8 355.2 165 L355.8 80.4 L357.4 140 L358.3 166 Q359 173 365.3 176 L388.6 183.2 Q392.8 184.2 393.3 177 L394.3 86.4 L394.9 150 L395.3 181 Q396 187.5 400.5 189.4 L419.1 194.3 L422 185.2 L426.1 171 L428.2 150.7 L430.2 130.4 L432.2 110 L433.7 85 L434.3 68" fill="none" stroke="#1A1AE8" stroke-width="1.4" stroke-linejoin="round"/>
<path d="M419.1 194.3 L451.8 114.5 L444 112.6 L438.5 110" fill="none" stroke="#1A1AE8" stroke-width="1.4" stroke-linejoin="round"/>
<path d="M434.3 70 L435.6 95 L438 108.5 L437.6 130 L436.4 149 L434.4 157" fill="none" stroke="#1A1AE8" stroke-width="1.4" stroke-linejoin="round"/>
<text x="285.6" y="61.5" font-family="Liberation Sans, sans-serif" font-size="5.1" text-anchor="end" fill="#2a2a2a">10 000</text>
<text x="291.5" y="114.1" font-family="Liberation Sans, sans-serif" font-size="5.1" text-anchor="end" fill="#2a2a2a">5000</text>
<text x="298.5" y="158.8" font-family="Liberation Sans, sans-serif" font-size="5.1" text-anchor="middle" fill="#2a2a2a">0</text>
<text x="262.6" y="106.3" font-family="Liberation Sans, sans-serif" font-size="6.0" font-weight="bold" fill="#111"><tspan font-style="italic">U</tspan><tspan font-size="4.2" dy="1">3</tspan><tspan dy="-1">(x,t)</tspan></text>
<text x="320.4" y="174.6" font-family="Liberation Sans, sans-serif" font-size="5.1" text-anchor="middle" fill="#2a2a2a">–2</text>
<text x="357" y="185.4" font-family="Liberation Sans, sans-serif" font-size="5.1" text-anchor="middle" fill="#2a2a2a">0</text>
<text x="396.5" y="197.4" font-family="Liberation Sans, sans-serif" font-size="5.1" text-anchor="middle" fill="#2a2a2a">2</text>
<text x="351" y="196.4" font-family="Liberation Sans, sans-serif" font-size="5.5" text-anchor="middle" fill="#111" font-weight="bold">t</text>
<text x="432.5" y="183" font-family="Liberation Sans, sans-serif" font-size="5.1" text-anchor="middle" fill="#2a2a2a">–2</text>
<text x="441.8" y="155" font-family="Liberation Sans, sans-serif" font-size="5.1" text-anchor="middle" fill="#2a2a2a">0</text>
<text x="451.5" y="129.5" font-family="Liberation Sans, sans-serif" font-size="5.1" text-anchor="middle" fill="#2a2a2a">2</text>
<text x="452.5" y="157.6" font-family="Liberation Sans, sans-serif" font-size="5.5" text-anchor="middle" fill="#111" font-weight="bold">x</text>
</g>
<g id="p3c">
<path d="M504.8 51 L522.7 162.3 L650.8 199.4 L683.2 113.5" fill="none" stroke="#7a7a7a" stroke-width="0.5"/>
<path d="M522.7 162.3 l1.6 0.2 M521.2 153.4 l1.6 0.2 M519.8 144.6 l1.6 0.2 M518.3 135.7 l1.6 0.2 M516.8 126.9 l1.6 0.2 M515.3 118 l1.6 0.2 M513.9 109.2 l1.6 0.2 M512.4 100.3 l1.6 0.2 M510.9 91.4 l1.6 0.2 M509.4 82.6 l1.6 0.2 M507.9 73.7 l1.6 0.2 M506.5 64.9 l1.6 0.2 M505 56 l1.6 0.2" stroke="#7a7a7a" stroke-width="0.4" fill="none"/>
<path d="M529 164.2 l0.5 -1.6 M537.4 166.6 l0.5 -1.6 M545.7 169 l0.5 -1.6 M554.1 171.4 l0.5 -1.6 M562.4 173.9 l0.5 -1.6 M570.8 176.3 l0.5 -1.6 M579.1 178.7 l0.5 -1.6 M587.5 181.1 l0.5 -1.6 M595.9 183.5 l0.5 -1.6 M604.2 185.9 l0.5 -1.6 M612.6 188.3 l0.5 -1.6 M620.9 190.8 l0.5 -1.6 M629.3 193.2 l0.5 -1.6 M637.6 195.6 l0.5 -1.6 M646 198 l0.5 -1.6" stroke="#7a7a7a" stroke-width="0.4" fill="none"/>
<path d="M652.5 195 l-1.6 -0.6 M654.6 189.5 l-1.6 -0.6 M656.6 184 l-1.6 -0.6 M658.7 178.5 l-1.6 -0.6 M660.8 173 l-1.6 -0.6 M662.9 167.5 l-1.6 -0.6 M664.9 162 l-1.6 -0.6 M667 156.5 l-1.6 -0.6 M669.1 151 l-1.6 -0.6 M671.1 145.5 l-1.6 -0.6 M673.2 140 l-1.6 -0.6 M675.3 134.5 l-1.6 -0.6 M677.4 129 l-1.6 -0.6 M679.4 123.5 l-1.6 -0.6 M681.5 118 l-1.6 -0.6" stroke="#7a7a7a" stroke-width="0.4" fill="none"/>
<text x="498" y="76.1" font-family="Liberation Sans, sans-serif" font-size="5.1" text-anchor="middle" fill="#2a2a2a">10 000</text>
<text x="507" y="121.6" font-family="Liberation Sans, sans-serif" font-size="5.1" text-anchor="middle" fill="#2a2a2a">5000</text>
<text x="517.6" y="161" font-family="Liberation Sans, sans-serif" font-size="5.1" text-anchor="middle" fill="#2a2a2a">0</text>
<text x="485" y="110.2" font-family="Liberation Sans, sans-serif" font-size="6.0" font-weight="bold" fill="#111"><tspan font-style="italic">U</tspan><tspan font-size="4.2" dy="1">3</tspan><tspan dy="-1">(x,t)</tspan></text>
<text x="542.6" y="176.1" font-family="Liberation Sans, sans-serif" font-size="5.1" text-anchor="middle" fill="#2a2a2a">–2</text>
<text x="581" y="186.6" font-family="Liberation Sans, sans-serif" font-size="5.1" text-anchor="middle" fill="#2a2a2a">0</text>
<text x="621.6" y="198.6" font-family="Liberation Sans, sans-serif" font-size="5.1" text-anchor="middle" fill="#2a2a2a">2</text>
<text x="576.2" y="197" font-family="Liberation Sans, sans-serif" font-size="5.5" text-anchor="middle" fill="#111" font-weight="bold">t</text>
<text x="662.5" y="182.4" font-family="Liberation Sans, sans-serif" font-size="5.1" text-anchor="middle" fill="#2a2a2a">–2</text>
<text x="671.4" y="154" font-family="Liberation Sans, sans-serif" font-size="5.1" text-anchor="middle" fill="#2a2a2a">0</text>
<text x="682.6" y="129.2" font-family="Liberation Sans, sans-serif" font-size="5.1" text-anchor="middle" fill="#2a2a2a">2</text>
<text x="682" y="157" font-family="Liberation Sans, sans-serif" font-size="5.5" text-anchor="middle" fill="#111" font-weight="bold">x</text>
<path d="M526.1 160 L649.2 194.1 L680.4 112 L659.1 106.9 L640.7 102.6 L637.6 100.5 L637.6 90 L600 100 L562 108 L555.4 116Z" fill="#FF0000"/>
<path d="M554.1 118.8 L555.3 113.5 L556.3 107.4 L557.6 101.2 L558.9 107.4 L559.9 113.5 L561.1 118.8 Z M556.1 118.5 L557.3 111.8 L558.5 103.9 L559.8 96 L561.1 103.9 L562.3 111.8 L563.5 118.5 Z M558.6 118.3 L559.8 109.3 L560.9 99 L562.2 88.6 L563.5 99 L564.6 109.3 L565.8 118.3 Z M561.3 118 L562.5 106.2 L563.5 92.4 L564.6 78.7 L565.7 92.4 L566.7 106.2 L567.9 118 Z M563.6 117.7 L564.8 103.2 L565.8 86.4 L567 69.5 L568.2 86.4 L569.2 103.2 L570.4 117.7 Z M566.4 117.4 L567.6 99 L568.4 77.5 L569.4 56 L570.4 77.5 L571.2 99 L572.4 117.4 Z M568.7 117.1 L569.9 95.6 L570.8 70.5 L571.8 45.4 L572.8 70.5 L573.7 95.6 L574.9 117.1 Z M571.2 116.8 L572.4 93.3 L573.4 65.8 L574.6 38.4 L575.8 65.8 L576.8 93.3 L578 116.8 Z M574.1 116.5 L575.3 91.1 L576.2 61.6 L577.2 32 L578.2 61.6 L579.1 91.1 L580.3 116.5 Z M577.6 116 L578.8 90.8 L579.9 61.4 L581.2 32 L582.5 61.4 L583.6 90.8 L584.8 116 Z M580.6 115.7 L581.8 91 L582.6 62.3 L583.6 33.5 L584.6 62.3 L585.4 91 L586.6 115.7 Z" fill="url(#gcs)"/>
<path d="M562 116 L563 102.4 L564 116 Z M567 116 L568 71.6 L569 116 Z M571.7 116 L573 48.4 L574.3 116 Z M575 116 L576 45.4 L577 116 Z M578.2 116 L579.5 54.5 L580.8 116 Z M581.1 116 L582.5 42.6 L583.9 116 Z" fill="url(#gcs)"/>
<path d="M583 112 L584 60 L585 40.1 L585.9 30.4 L587.2 39.8 L588.2 23.8 L589.2 27.1 L590.2 22.4 L591 27.6 L592 20.9 L593.1 26.1 L594.4 12.8 L595.9 37.9 L597.3 8.5 L598.6 27.9 L599.4 20.6 L600.4 31.9 L601.7 27.6 L604 18 L604.5 116 L590 114Z" fill="url(#gc)"/>
<clipPath id="cpc1"><path d="M583 112 L584 60 L585 40.1 L585.9 30.4 L587.2 39.8 L588.2 23.8 L589.2 27.1 L590.2 22.4 L591 27.6 L592 20.9 L593.1 26.1 L594.4 12.8 L595.9 37.9 L597.3 8.5 L598.6 27.9 L599.4 20.6 L600.4 31.9 L601.7 27.6 L604 18 L604.5 116 L590 114Z"/></clipPath>
<g clip-path="url(#cpc1)">
<path d="M590.7 70.5 L591.9 47.7 L593 70.5 L591.9 93.4 Z M586.6 88.9 L587.8 61.9 L589 88.9 L587.8 115.9 Z M585.8 84.1 L586.6 67.7 L587.5 84.1 L586.6 100.4 Z M595.1 73.1 L596.4 53 L597.6 73.1 L596.4 93.2 Z M594.5 61.6 L595.3 41.8 L596 61.6 L595.3 81.3 Z M586 75.4 L587.3 50 L588.6 75.4 L587.3 100.7 Z M587.8 75.7 L588.7 45.9 L589.7 75.7 L588.7 105.5 Z M591.7 67.5 L592.9 43.6 L594.1 67.5 L592.9 91.5 Z M592.5 62.1 L593.7 46.2 L595 62.1 L593.7 77.9 Z M585.9 85.9 L586.6 58.3 L587.2 85.9 L586.6 113.4 Z" fill="url(#gcg)" opacity="0.9"/>
<path d="M597.4 73 L598.4 52.6 L599.5 73 L598.4 93.3 Z M586.7 65.3 L587.8 50.9 L588.9 65.3 L587.8 79.7 Z M589.9 71.5 L591 46.5 L592.1 71.5 L591 96.5 Z M601.6 68.7 L602.6 50.1 L603.6 68.7 L602.6 87.3 Z M593.5 56.2 L594.1 38.6 L594.7 56.2 L594.1 73.7 Z M591.5 79.7 L592.4 55.2 L593.3 79.7 L592.4 104.1 Z M593.8 52.7 L594.5 39.1 L595.2 52.7 L594.5 66.3 Z M598.2 73.7 L599.3 56.6 L600.3 73.7 L599.3 90.7 Z M598.1 73.2 L599.2 52.4 L600.2 73.2 L599.2 94 Z M591.3 65.8 L592.2 49.8 L593 65.8 L592.2 81.8 Z" fill="url(#gcd)" opacity="0.85"/>
</g>
<path d="M590.1 15.5 L591.9 15.5 L591.2 43.5 Z M595.7 7.5 L597.3 7.5 L596.7 33.5 Z M586.1 21.3 L587.9 21.3 L586.8 59.3 Z" fill="#fff"/>
<path d="M555.4 117.5 L562 114 L575 113 L590 114.5 L604.5 115 L604.5 122 L585.3 128.2 L555.4 119.5 Z" fill="#FF0000"/>
<path d="M604 17 L603.6 72" stroke="#FFEE00" stroke-width="1.6" fill="none"/>
<path d="M586.7 128.6 L590 112 L592.5 100 L596 90 L600 80 L604 70 L608 60 L612 51 L614 45 L615 53.4 L616.2 37.7 L617.4 48.1 L618.5 37.9 L619.8 39.8 L621 31.3 L622.4 38.8 L623.8 26.2 L625.3 31.6 L626.5 21.2 L627.8 31.6 L629.1 25.9 L630.4 36.1 L631.6 24.7 L632.7 33.4 L634 21.6 L634.8 26.6 L636.1 15.8 L637.3 13.1 L638 6 L638.4 100 L614 117 L598 128 L592 130Z" fill="url(#gc)"/>
<clipPath id="cpc2"><path d="M586.7 128.6 L590 112 L592.5 100 L596 90 L600 80 L604 70 L608 60 L612 51 L614 45 L615 53.4 L616.2 37.7 L617.4 48.1 L618.5 37.9 L619.8 39.8 L621 31.3 L622.4 38.8 L623.8 26.2 L625.3 31.6 L626.5 21.2 L627.8 31.6 L629.1 25.9 L630.4 36.1 L631.6 24.7 L632.7 33.4 L634 21.6 L634.8 26.6 L636.1 15.8 L637.3 13.1 L638 6 L638.4 100 L614 117 L598 128 L592 130Z"/></clipPath>
<g clip-path="url(#cpc2)"><path d="M583 134 L588 108 L591 96 L595 89 L599 79 L603 69 L607 59 L611 50 L615 44 L619 42 L622 50 L624 84 L626 122 L600 132Z" fill="url(#gcg)" filter="url(#blur2)"/>
<path d="M621.4 66.8 L622.3 49.8 L623.2 66.8 L622.3 83.8 Z M620.4 70.1 L621.4 54.5 L622.5 70.1 L621.4 85.6 Z M624.4 81.7 L625.2 57.8 L626 81.7 L625.2 105.5 Z M634.3 61.4 L635.2 40.3 L636 61.4 L635.2 82.4 Z M624.9 74.1 L625.8 46.7 L626.7 74.1 L625.8 101.6 Z M617.6 86.8 L618.7 70.4 L619.8 86.8 L618.7 103.3 Z M623.1 87.5 L624.4 58.1 L625.8 87.5 L624.4 116.9 Z M625 85.8 L626 61.1 L626.9 85.8 L626 110.4 Z M619.2 88.4 L620.7 65 L622.2 88.4 L620.7 111.9 Z M635 69.9 L636.4 49.6 L637.8 69.9 L636.4 90.2 Z M616.9 84.4 L618 60.9 L619.2 84.4 L618 107.9 Z M619.7 94.1 L620.7 65.8 L621.6 94.1 L620.7 122.5 Z M624.7 68.3 L626.2 48.9 L627.7 68.3 L626.2 87.6 Z M624.1 93.9 L625.2 65.2 L626.4 93.9 L625.2 122.6 Z M622 90.9 L622.9 68.4 L623.9 90.9 L622.9 113.3 Z M623.2 89.5 L624.1 67.1 L624.9 89.5 L624.1 111.8 Z" fill="url(#gcg)" opacity="0.9"/>
<path d="M611.9 78.6 L612.6 54.3 L613.3 78.6 L612.6 103 Z M608.8 96.3 L609.3 68.9 L609.8 96.3 L609.3 123.8 Z M612.7 81.6 L613.6 52.6 L614.5 81.6 L613.6 110.6 Z M607.4 83 L608.4 65.7 L609.4 83 L608.4 100.4 Z M608.5 89.3 L609.3 67.2 L610.1 89.3 L609.3 111.4 Z M614 69.9 L614.9 53.1 L615.7 69.9 L614.9 86.7 Z M608.8 86.2 L609.4 66.2 L610.1 86.2 L609.4 106.2 Z M612.7 75.1 L613.5 54.6 L614.4 75.1 L613.5 95.5 Z" fill="url(#gc)" opacity="0.85"/>
<path d="M611.6 82.5 L612.2 65 L612.8 82.5 L612.2 100 Z M619.6 79 L620 58.5 L620.4 79 L620 99.5 Z M615.9 78.5 L616.7 57.7 L617.4 78.5 L616.7 99.2 Z M612.6 93 L613.2 68.9 L613.8 93 L613.2 117.1 Z M606.9 106.1 L607.4 89.1 L608 106.1 L607.4 123 Z M617.2 73.2 L617.9 49.9 L618.7 73.2 L617.9 96.6 Z M607.5 100.5 L608.4 77.7 L609.2 100.5 L608.4 123.3 Z M600.8 118.6 L601.4 98.1 L602.1 118.6 L601.4 139.1 Z M605.1 102.5 L605.9 81.6 L606.7 102.5 L605.9 123.3 Z M598.8 121.8 L599.6 98.6 L600.4 121.8 L599.6 145 Z" fill="#A00010" opacity="0.7"/>
<path d="M628.8 65 L629.9 43.5 L631.1 65 L629.9 86.5 Z M635.9 56.8 L637 43.7 L638.1 56.8 L637 69.9 Z M619.6 86 L620.6 61.6 L621.6 86 L620.6 110.4 Z M618.2 83.1 L618.8 59.1 L619.4 83.1 L618.8 107.1 Z M627.9 64.9 L628.8 50.4 L629.8 64.9 L628.8 79.4 Z M616.4 75.9 L616.9 58.6 L617.5 75.9 L616.9 93.1 Z M616.1 89.3 L617.2 67.5 L618.3 89.3 L617.2 111 Z M617.9 78.4 L618.8 61.9 L619.7 78.4 L618.8 94.8 Z M625.7 76.2 L626.3 59 L626.8 76.2 L626.3 93.3 Z M629.8 65.8 L630.6 45.4 L631.5 65.8 L630.6 86.2 Z M634.4 67.7 L635.1 47.4 L635.8 67.7 L635.1 87.9 Z M626.7 68.2 L627.6 46.3 L628.4 68.2 L627.6 90 Z" fill="url(#gcd)" opacity="0.85"/>
</g>
<path d="M592 131 L600 130 L616 119 L638.5 103 L638.5 98 L614 113 L598 124 L590 127 Z" fill="#FF0000" opacity="0.9" filter="url(#blur1)"/>
<path d="M555.6 119.8 Q568 126 585.5 128.4" fill="none" stroke="#fff" stroke-width="1.3" stroke-linecap="round"/>
<path d="M586.7 128.4 L600 131.8 L615 135.6 L630 139.6 L645 143.4 L655 146.2 L664.8 148.7" fill="none" stroke="#4a0000" stroke-width="0.9" opacity="0.75" filter="url(#blur2)" stroke-dasharray="9 1.5 5 1 12 2"/>
<path d="M599.6 131.7 l-0.3 1.7 M618 136.4 l-0.4 -1.9 M596.1 130.8 l0.2 -2.1 M626.5 138.7 l-0.1 2.1 M624.6 138.2 l-0.2 -1.7 M617.7 136.3 l0.4 1.9 M606.1 133.3 l-0.5 2 M600.1 131.8 l0.1 2 M610.9 134.6 l0.5 2 M617.2 136.2 l0.3 1.8 M647.9 144.2 l-0.1 1.7 M632.7 140.3 l0.1 -1.6 M597 131 l-0.6 -1.4 M625.3 138.3 l0.5 1.2 M623.9 138 l0.5 1.5 M623.3 137.8 l-0.4 -1.3 M652.6 145.5 l0.4 1.4 M608.3 133.9 l-0.3 -2 M638.4 141.7 l-0.6 -1.5 M644.1 143.2 l-0.2 -1.9" stroke="#500000" stroke-width="0.7" opacity="0.7" fill="none"/>
<path d="M555.2 117.5 L526.3 160 L649.2 194 L680.3 112.1 L659.1 106.9 L640.7 102.6 L638.2 100.4 L638.2 24" fill="none" stroke="#FFF000" stroke-width="1.7" stroke-linejoin="round"/>
</g>
<g id="pd">
<path d="M44.5 416 L44.5 411.4 L64.4 411.3 L157 412.3 L184.4 412.2 L223.5 411.6 L223.5 416Z" fill="#5E81B5" fill-opacity="0.2" stroke="none"/>
<path d="M44.5 416 L44.5 409.1 L64.4 408.9 L85.8 409.1 L132.1 410.6 L156.9 411 L185.2 410.7 L223.5 409.4 L223.5 416Z" fill="#E19C24" fill-opacity="0.2" stroke="none"/>
<path d="M44.5 416 L44.5 405.5 L64.4 405.1 L75.5 405.2 L86.2 405.5 L130.7 408.5 L143.7 409.1 L156.6 409.3 L171.5 409.2 L186.3 408.7 L200 407.9 L223.5 406.2 L223.5 416Z" fill="#8FB032" fill-opacity="0.2" stroke="none"/>
<path d="M44.5 416 L44.5 397.4 L53 396.9 L64.4 396.7 L77.6 397 L87.4 397.7 L96.1 398.9 L116.5 403 L127.9 404.9 L141.7 406.3 L156.3 406.9 L164.7 406.9 L173.1 406.7 L181.3 406.2 L189.1 405.4 L202.9 403.4 L223.5 399.2 L223.5 416Z" fill="#EB6235" fill-opacity="0.2" stroke="none"/>
<path d="M44.5 416 L44.5 283.1 L45.9 302.1 L47.7 318.5 L49.8 331.8 L51.1 337.5 L52.4 342 L53.9 346.3 L55.5 349.7 L57.3 352.7 L59.2 354.9 L61.2 356.5 L63.3 357.3 L65.4 357.3 L67.5 356.6 L69.3 355.4 L71.1 353.5 L72.7 351 L74.3 348 L75.7 344.5 L77.1 340.1 L79.4 330.3 L81.3 318.2 L83 303 L84.2 286.4 L85.7 261.4 L96.8 261.4 L97.7 285.3 L98.7 305.3 L99.8 321.8 L101.3 336.5 L102.8 348.3 L104.7 359.1 L106.9 367.9 L109.6 375.7 L112 380.9 L114.8 385.5 L118 389.4 L121.7 392.7 L125.9 395.6 L130.7 397.9 L136.2 399.8 L142.3 401.2 L147 402 L152.2 402.5 L157.5 402.7 L162.9 402.8 L168.3 402.5 L173.4 402.1 L178.3 401.3 L182.7 400.4 L186.7 399.3 L190.3 398 L193.6 396.5 L196.7 394.8 L199.4 392.9 L201.9 390.7 L204.2 388.3 L206.4 385.6 L208.3 382.6 L210 379.6 L211.6 375.9 L213 372.2 L215.6 363.4 L217.8 352.8 L219.6 340.5 L221.1 325.8 L222.4 308.7 L223.5 287.2 L223.5 416Z" fill="#8778B3" fill-opacity="0.2" stroke="none"/>
<path d="M44.5 416 L44.5 391.1 L47.5 387.9 L50.3 384.1 L52.9 379.6 L55.1 374.7 L57 369.1 L58.7 363 L60.2 355.8 L61.6 347.4 L63.5 331.6 L65.1 313.1 L66.3 290.7 L67.5 261.4 L78.6 261.4 L79.9 284.5 L81 300.2 L82.6 315.2 L84.2 326.8 L86.3 336.8 L88.6 344.6 L90 348 L91.4 350.8 L92.9 353.1 L94.5 354.9 L96.5 356.5 L98.7 357.3 L100.9 357.3 L102.9 356.6 L105 355.1 L106.9 352.8 L108.7 349.9 L110.3 346.3 L112.3 340.7 L114 333.6 L115.6 325.4 L116.9 316.5 L118.1 304.8 L119.2 292.5 L121 261.4 L132.1 261.4 L133.2 290.1 L134.4 310.8 L135.8 328.7 L137.5 343.5 L139.5 356.3 L141.9 366.8 L143.3 371.4 L144.9 375.6 L146.5 379.3 L148.3 382.6 L150.6 386.1 L153.2 389.2 L156 391.9 L159.2 394.3 L162.8 396.4 L166.6 398.1 L171 399.6 L175.7 400.8 L181.5 401.8 L187.6 402.5 L194.1 402.8 L200.8 402.7 L207.2 402.2 L213.2 401.4 L218.7 400.3 L223.5 398.8 L223.5 416Z" fill="#C56E1A" fill-opacity="0.2" stroke="none"/>
<path d="M44.5 416 L44.5 399.3 L50.1 397.1 L55 394.5 L59.2 391.2 L62.9 387.3 L66.1 382.7 L68.9 377.1 L71.3 370.7 L73.4 363.5 L75 355.7 L76.4 347.3 L77.7 337.4 L78.9 326 L79.9 312.9 L80.8 298 L82.3 261.4 L93.5 261.4 L94.9 286.8 L96.4 306 L98.3 322.1 L100.5 334.1 L101.8 339.3 L103.2 343.9 L104.7 347.8 L106.5 351.3 L108.4 354 L110.3 355.8 L112.4 357 L114.6 357.4 L116.7 357 L118.8 355.9 L120.7 354.1 L122.6 351.5 L124.4 348.1 L125.9 344.2 L127.5 339.3 L128.8 334.1 L130.9 322 L132.8 306 L134.4 286.7 L135.8 261.4 L146.9 261.4 L147.9 287.7 L149.1 309.1 L150.4 326.1 L151.9 340.7 L153.7 352.9 L155.9 363.5 L158.4 372.2 L159.8 375.9 L161.5 379.6 L163.4 383.1 L165.5 386.1 L167.8 388.9 L170.2 391.3 L172.9 393.5 L176 395.5 L179.2 397.1 L182.7 398.6 L186.8 399.9 L191.3 401 L196.2 401.8 L201.4 402.4 L206.9 402.7 L212.5 402.8 L218.2 402.6 L223.5 402.1 L223.5 416Z" fill="#5D9EC7" fill-opacity="0.2" stroke="none"/>
<path d="M44.5 416 L44.5 401.6 L51.9 400.1 L58.4 398 L61.3 396.7 L64 395.2 L66.5 393.6 L68.8 391.8 L70.9 389.8 L72.9 387.6 L76.3 382.7 L79.4 376.6 L81.9 369.6 L84 362 L85.8 353.1 L87.3 342.9 L88.7 330.4 L89.9 316.9 L90.9 300.9 L92.6 261.4 L103.7 261.4 L105.2 288.3 L106.6 305.7 L108.5 321.9 L110.7 334 L112 339.2 L113.5 344.2 L115.1 348 L116.9 351.4 L118.8 354.1 L120.7 355.9 L122.7 357 L124.9 357.4 L127.1 357 L129.1 355.8 L131.1 354 L133 351.3 L134.8 347.8 L136.3 343.9 L137.7 339.4 L139 334.2 L141.2 322.2 L143.1 306.2 L144.6 287.2 L146 261.4 L157.2 261.4 L158.2 287.1 L159.2 306.6 L160.3 322.8 L161.8 337.2 L163.4 349.7 L165.5 360.6 L167.8 369.4 L170.5 376.8 L172.1 380.3 L173.9 383.5 L175.8 386.3 L178 388.9 L180.3 391.2 L182.9 393.3 L185.7 395.2 L188.6 396.8 L191.9 398.2 L195.7 399.5 L199.6 400.6 L203.8 401.4 L208.4 402.1 L213.3 402.5 L223.5 402.8 L223.5 416Z" fill="#FFBF00" fill-opacity="0.2" stroke="none"/>
<path d="M44.5 416 L44.5 402.6 L53.3 401.6 L61.2 400 L64.8 398.9 L68 397.7 L71.1 396.2 L73.9 394.6 L76.4 392.8 L78.7 390.8 L80.9 388.5 L83 386 L84.9 383.1 L86.5 380.2 L89.5 373.4 L91.8 366.1 L93.8 357.2 L95.6 346.7 L97.2 334.3 L98.4 320.3 L99.5 305.5 L100.5 285.6 L101.4 261.6 L101.5 261.4 L112.5 261.4 L114 288.2 L115.5 305.6 L117.4 321.8 L119.5 334 L120.8 339.2 L122.4 344.1 L123.9 348 L125.7 351.4 L127.6 354.1 L129.5 355.9 L131.6 357 L133.7 357.4 L135.9 357 L138 355.8 L139.9 354 L141.8 351.3 L143.6 347.9 L145.1 344 L146.7 339 L147.9 333.7 L150.1 321.4 L152 305 L153.6 285.3 L154.8 261.4 L166 261.4 L167.9 304.3 L169 321.1 L170.3 334.9 L171.9 347.1 L173.7 357.5 L175.7 366.3 L178.1 373.9 L179.7 377.6 L181.2 380.8 L182.9 383.6 L184.8 386.4 L186.8 388.9 L189 391.1 L191.3 393 L193.9 394.8 L196.7 396.4 L199.7 397.8 L203.1 399 L206.7 400.1 L214.6 401.7 L223.5 402.6 L223.5 416Z" fill="#A5609D" fill-opacity="0.2" stroke="none"/>
<path d="M91.6 261.4 V416 M72.7 261.4 V416 M126.9 261.4 V416 M87.5 261.4 V416 M141.8 261.4 V416 M97.7 261.4 V416 M152 261.4 V416 M106.6 261.4 V416 M160.9 261.4 V416" stroke="#fff" stroke-width="0.5" stroke-opacity="0.2" fill="none"/>
<path d="M44.5 411.4 L62 411.3 L79.4 411.3 L134.3 412.1 L158.7 412.3 L185.3 412.1 L223.5 411.6" fill="none" stroke="#5E81B5" stroke-width="1.5" stroke-dasharray="9 5.5" stroke-linejoin="round"/>
<path d="M44.5 409.1 L62.1 408.9 L79.8 409 L94.7 409.4 L133.4 410.6 L158.6 411 L172.1 410.9 L185.9 410.7 L223.5 409.4" fill="none" stroke="#E19C24" stroke-width="1.15" stroke-linejoin="round"/>
<path d="M44.5 405.5 L53.3 405.2 L62.5 405.1 L71.8 405.1 L80.8 405.3 L94.7 406 L120.1 407.9 L131.8 408.6 L145.1 409.1 L158.3 409.3 L172.8 409.2 L187.1 408.7 L200.4 407.9 L223.5 406.2" fill="none" stroke="#8FB032" stroke-width="1.5" stroke-dasharray="9 5.5" stroke-linejoin="round"/>
<path d="M44.5 397.4 L52.9 396.9 L64.2 396.7 L75.7 396.9 L84.2 397.4 L89.6 397.9 L95.1 398.8 L117 403.1 L123 404.2 L128.8 405 L135.7 405.8 L142.8 406.4 L150.2 406.8 L157.8 406.9 L166.1 406.9 L174.3 406.6 L182.2 406.1 L189.8 405.3 L196.4 404.5 L203.2 403.3 L223.5 399.2" fill="none" stroke="#EB6235" stroke-width="1.15" stroke-linejoin="round"/>
<path d="M44.5 283.1 L45.9 302.1 L46.8 311.1 L47.7 318.5 L48.7 325.5 L49.8 331.8 L51.1 337.5 L52.4 342 L53.9 346.3 L55.5 349.7 L57.3 352.7 L59.2 354.9 L60.2 355.8 L61.2 356.5 L62.2 357 L63.3 357.3 L64.3 357.4 L65.4 357.3 L66.5 357.1 L67.5 356.6 L69.3 355.4 L71.1 353.5 L72.7 351 L74.3 348 L75.7 344.5 L77.1 340.1 L78.2 335.7 L79.4 330.3 L80.4 324.4 L81.3 318.2 L83 303 L84.4 284.4 L85.6 261.4 M96.8 261.4 L97.5 282.3 L98.4 300.8 L99.5 316.8 L100.7 331.7 L102.2 343.8 L103.7 353.8 L105.5 362.5 L107.5 370 L108.7 373.4 L110 376.6 L111.4 379.6 L112.8 382.3 L114.3 384.7 L116 387 L117.8 389.1 L119.7 391 L121.7 392.7 L123.9 394.3 L126.3 395.8 L128.9 397.1 L131.7 398.3 L134.6 399.3 L137.8 400.2 L141.2 401 L145.9 401.8 L151 402.4 L156.4 402.7 L161.9 402.8 L167.4 402.6 L172.6 402.1 L177.6 401.5 L182.2 400.5 L186.2 399.5 L189.9 398.2 L193.2 396.7 L196.3 395 L199.1 393.1 L201.7 391 L204.1 388.5 L206.3 385.7 L208.2 382.8 L209.8 379.8 L211.5 376.2 L212.9 372.5 L214.2 368.6 L215.5 363.9 L216.6 358.8 L217.7 353.5 L218.7 347.2 L219.6 340.5 L221.1 325.8 L222.4 308.7 L223.5 287.2" fill="none" stroke="#8778B3" stroke-width="1.5" stroke-dasharray="9 5.5" stroke-linejoin="round"/>
<path d="M44.5 391.1 L47.3 388.2 L49.8 384.9 L52.1 381.1 L54.2 376.9 L56.1 371.9 L57.8 366.5 L59.3 360.2 L60.6 353.7 L61.7 346.5 L62.9 337.6 L63.9 327.6 L64.8 316.7 L65.6 305.2 L66.3 290.7 L67.5 261.4 M78.7 261.4 L80 286.5 L81.6 305.8 L82.5 314.2 L83.5 321.9 L84.5 328.3 L85.7 334.1 L86.9 339.3 L88.5 344.2 L90 348 L91.8 351.4 L93.7 354.1 L95.6 355.9 L96.7 356.6 L97.7 357 L98.7 357.3 L99.8 357.4 L101 357.3 L102 357 L103 356.5 L104.1 355.8 L106 354 L107.9 351.3 L109.7 347.8 L111.2 343.9 L112.6 339.4 L113.9 334.2 L115.1 328.4 L116.1 322.1 L117.1 314.4 L118 306.1 L119.5 287 L120.9 261.4 M132.1 261.4 L133.1 287.3 L134.4 310.8 L135.9 330 L136.8 338.4 L137.7 345.4 L138.7 352.1 L139.9 358.3 L141.2 363.9 L142.6 369 L144.1 373.6 L145.8 377.7 L147.6 381.3 L149.5 384.5 L151.9 387.7 L154.5 390.5 L157.4 393 L160.6 395.2 L164.2 397.1 L168 398.7 L172.4 400 L177.1 401.1 L182.7 402 L188.9 402.6 L195.3 402.8 L201.7 402.6 L207.8 402.2 L213.6 401.4 L218.8 400.2 L223.5 398.8" fill="none" stroke="#C56E1A" stroke-width="1.15" stroke-linejoin="round"/>
<path d="M44.5 399.3 L47.3 398.3 L49.8 397.3 L52.3 396.1 L54.6 394.7 L56.7 393.2 L58.7 391.7 L60.5 390 L62.2 388.1 L63.9 385.9 L65.4 383.7 L66.8 381.3 L68.1 378.8 L69.4 375.9 L70.6 372.9 L72.6 366.4 L74.4 358.9 L76.1 349.8 L77.5 339.6 L78.7 327.4 L79.9 312.9 L80.8 298 L81.6 281.7 L82.3 261.4 M93.5 261.4 L94.9 286.8 L96.4 306 L97.3 314.3 L98.3 322.1 L99.3 328.4 L100.5 334.1 L101.8 339.3 L103.2 343.9 L104.7 347.8 L106.5 351.3 L108.4 354 L110.3 355.8 L111.4 356.5 L112.4 357 L113.4 357.3 L114.6 357.4 L115.7 357.3 L116.7 357 L117.8 356.6 L118.8 355.9 L120.7 354.1 L122.6 351.5 L124.4 348.1 L125.9 344.2 L127.5 339.3 L128.8 334.1 L129.9 328.3 L130.9 322 L132 314.3 L132.8 306 L134.4 286.7 L135.7 261.4 M146.9 261.4 L147.9 287.7 L149.1 309.1 L150.5 327.5 L152 341.7 L152.9 348.2 L154 354.4 L155.1 360.1 L156.3 365 L157.5 369.5 L158.9 373.7 L160.5 377.4 L162.3 381.1 L164.2 384.3 L166.2 387.1 L168.5 389.7 L171.1 392.1 L173.8 394.1 L176.8 396 L180 397.5 L183.6 398.9 L187.7 400.2 L192.2 401.2 L196.9 401.9 L202 402.5 L207.4 402.7 L212.9 402.8 L218.3 402.5 L223.5 402.1" fill="none" stroke="#5D9EC7" stroke-width="1.5" stroke-dasharray="9 5.5" stroke-linejoin="round"/>
<path d="M44.5 401.6 L48.2 401 L51.6 400.2 L54.8 399.3 L57.9 398.2 L60.7 397 L63.3 395.6 L65.7 394.1 L68 392.4 L70.2 390.5 L72.1 388.5 L73.9 386.3 L75.5 383.9 L77.1 381.4 L78.6 378.3 L79.9 375.4 L81.2 371.9 L82.3 368.3 L83.5 364.1 L85.4 355.2 L87.1 344.8 L88.5 333 L89.7 318.6 L90.8 303.2 L91.7 285.3 L92.6 261.4 M103.8 261.4 L105.1 286.4 L106.6 305.7 L107.5 314.1 L108.5 321.9 L109.6 328.2 L110.7 334 L112 339.2 L113.5 344.2 L115.1 348 L116.9 351.4 L118.8 354.1 L120.7 355.9 L121.7 356.6 L122.7 357 L123.8 357.3 L124.9 357.4 L126.1 357.3 L127.1 357 L128.1 356.5 L129.1 355.8 L131.1 354 L133 351.3 L134.8 347.8 L136.3 343.9 L137.7 339.4 L139 334.2 L140.1 328.5 L141.3 321.3 L142.3 313.4 L143.2 304.9 L144.7 285.2 L146 261.4 M157.2 261.4 L158.2 287.1 L159.2 306.6 L160.5 324.3 L162 339.4 L163.8 352 L164.8 357.6 L165.8 362.3 L167 366.8 L168.3 371 L169.7 374.9 L171.2 378.5 L172.9 381.7 L174.7 384.6 L176.6 387.3 L178.8 389.7 L181.1 391.9 L183.6 393.8 L186.4 395.6 L189.4 397.1 L192.7 398.5 L196.3 399.7 L200.1 400.7 L204.3 401.5 L209 402.1 L213.7 402.6 L218.5 402.8 L223.5 402.8" fill="none" stroke="#FFBF00" stroke-width="1.15" stroke-linejoin="round"/>
<path d="M44.5 402.6 L48.9 402.2 L53.2 401.7 L57.1 401 L60.8 400.1 L64.3 399.1 L67.5 397.9 L70.4 396.5 L73.2 395 L75.8 393.2 L78.1 391.4 L80.3 389.2 L82.2 387 L84.1 384.3 L85.8 381.6 L87.3 378.6 L88.7 375.4 L90 372 L91.3 367.9 L92.4 363.6 L93.5 359.1 L95.4 348.4 L96.9 336.6 L98.3 321.9 L99.5 305.5 L100.5 285.6 L101.4 261.4 M112.6 261.4 L113.9 286.2 L115.5 305.6 L116.3 314 L117.4 321.8 L118.4 328.1 L119.5 334 L120.8 339.2 L122.4 344.1 L123.9 348 L125.7 351.4 L127.6 354.1 L129.5 355.9 L130.5 356.5 L131.6 357 L132.6 357.3 L133.7 357.4 L134.9 357.3 L135.9 357 L136.9 356.5 L138 355.8 L139.9 354 L141.8 351.3 L143.6 347.9 L145.1 344 L146.7 339 L147.9 333.7 L149.1 327.8 L150.1 321.4 L151.1 313.5 L152 305 L153.6 285.3 L154.8 261.4 M166 261.4 L166.9 284 L167.9 304.3 L169 321.1 L170.5 336 L172 347.9 L173.9 358.8 L174.9 363.3 L176.1 367.7 L177.4 371.8 L178.8 375.5 L180.3 379 L181.8 381.9 L183.5 384.6 L185.3 387.1 L187.3 389.4 L189.5 391.5 L191.8 393.4 L194.4 395.1 L197.2 396.6 L200.1 398 L203.5 399.2 L206.9 400.2 L210.7 401.1 L214.7 401.7 L219.1 402.3 L223.5 402.6" fill="none" stroke="#A5609D" stroke-width="1.5" stroke-dasharray="9 5.5" stroke-linejoin="round"/>
</g>
<g id="pe">
<path d="M268.8 416 L268.8 394.1 L271.1 397.4 L273.8 400.2 L277 402.4 L280.8 404.2 L285.1 405.6 L290.3 406.5 L295.9 407 L301.8 407 L307.1 406.5 L311.9 405.6 L316.1 404.3 L319.7 402.6 L322.8 400.5 L325.5 397.9 L327.8 394.7 L329.7 391.1 L332.1 384.8 L334 376.6 L335.5 366.4 L336.8 353.3 L337.8 336.9 L338.6 318.2 L339.9 261 L344.5 261 L345.3 293.2 L345.9 312 L346.7 327.6 L347.7 341.5 L349 352.9 L350.7 362.3 L352.6 368.9 L353.8 371.5 L354.9 373.5 L356.7 375.4 L358.5 376.2 L359.6 376.3 L360.5 376.1 L362.3 375 L363.9 372.9 L365.5 369.9 L366.9 365.8 L368.1 361.1 L369.2 354.7 L370.2 346.7 L371.8 327.6 L372.9 301.6 L374 261 L378.6 261 L379.9 318.2 L380.7 336.9 L381.7 353.3 L383 366.4 L384.5 376.6 L386.4 384.8 L388.8 391.1 L390.7 394.7 L392.9 397.7 L395.4 400.3 L398.3 402.3 L401.7 404 L405.6 405.3 L410.1 406.3 L415.1 406.9 L420.9 407 L426.6 406.7 L431.7 406 L436.3 404.7 L440.2 403.1 L443.5 401.1 L446.4 398.6 L448.8 395.5 L448.8 416Z" fill="#5E81B5" fill-opacity="0.2" stroke="none"/>
<path d="M268.8 416 L268.8 339.3 L269.7 326.5 L270.5 310.4 L271.2 285.9 L271.8 261 L271.9 261 L276.4 261 L276.5 262.4 L277.3 302.9 L278.3 332.9 L279.7 355.7 L280.6 364.8 L281.5 371.7 L283.5 381.7 L284.6 385.9 L285.9 389.5 L287.3 392.6 L289 395.4 L290.9 397.9 L293 400 L295.8 402.1 L299 403.8 L302.7 405.1 L306.9 406.1 L311.7 406.8 L316.9 407 L322.2 406.9 L327.2 406.4 L331.2 405.6 L334.8 404.5 L337.8 403.2 L340.7 401.6 L343.1 399.7 L345.3 397.3 L347.2 394.6 L348.9 391.5 L350.2 388.5 L351.3 385 L353.3 377 L354.8 367 L356.1 354.1 L357.1 338.2 L357.9 320.1 L359.3 261 L363.9 261 L364.8 299.6 L366 326.5 L367.5 346.1 L368.6 354.3 L369.7 360.8 L370.9 365.6 L372.3 369.7 L373.7 372.6 L375.4 374.8 L377.2 376 L378.1 376.3 L379.1 376.3 L380.9 375.5 L382.7 373.7 L384 371.7 L385.2 369.1 L387.1 362.6 L388.8 353.4 L390 342.2 L391.1 328.6 L392 310.4 L392.7 285.9 L393.3 261 L397.9 261 L399.2 316.3 L399.8 332.9 L400.7 348.9 L401.7 361.2 L403 371.7 L404.6 380.1 L406.4 386.7 L407.5 389.8 L408.8 392.6 L410.2 395 L411.8 397.2 L413.6 399.2 L415.5 400.8 L417.7 402.3 L420 403.5 L422.8 404.7 L425.9 405.6 L429.3 406.3 L433 406.7 L441 407 L444.9 406.8 L448.8 406.4 L448.8 416Z" fill="#E19C24" fill-opacity="0.2" stroke="none"/>
<path d="M268.8 416 L268.8 365.8 L269.8 368.9 L270.9 371.3 L272 373.3 L273.3 374.8 L274.6 375.8 L276 376.3 L277.4 376.2 L278.7 375.6 L280 374.4 L281.1 372.9 L282.3 370.7 L283.3 368.2 L285.1 361.7 L286.5 353.8 L288.1 340.1 L289.4 320.5 L290.3 297.5 L291.2 261 L295.8 261 L297 314.3 L297.6 331.5 L298.5 348 L299.5 360.6 L300.7 370.3 L302.2 379.2 L304 386.1 L306.1 391.4 L308.5 395.7 L311.5 399.2 L315 402 L319.3 404.2 L324.5 405.7 L330.5 406.7 L337.2 407.1 L344.1 406.7 L350.3 405.6 L355.6 404 L357.9 402.9 L360 401.6 L363.4 398.7 L365 396.9 L366.4 394.9 L368.8 390.3 L370.9 384.4 L372.6 377.3 L374 368.5 L375.1 357.9 L376 346 L376.8 331.5 L377.4 314.3 L378.6 261 L383.2 261 L384.3 301.6 L385.4 327.6 L386.2 338.6 L387.1 347.9 L388.1 355.5 L389.3 361.7 L390.6 366.6 L392 370.5 L393.6 373.5 L395.4 375.4 L396.3 375.9 L397.4 376.3 L398.4 376.3 L399.4 376 L400.5 375.4 L401.4 374.6 L403.2 372 L404.2 369.9 L405.2 367 L407 359.9 L408.4 351 L409.6 340.1 L410.6 325.4 L411.4 308.8 L412.7 261 L417.3 261 L418.3 310 L419.5 339.4 L420.3 351.6 L421.2 361.9 L422.2 370.3 L423.5 377.9 L425 384.4 L426.9 390 L429.1 394.3 L431.8 398 L435 401 L438.9 403.3 L443.4 405.1 L448.8 406.3 L448.8 416Z" fill="#8FB032" fill-opacity="0.2" stroke="none"/>
<path d="M268.8 416 L268.8 384.1 L270.7 375.6 L272.3 364.8 L273.4 352.5 L274.5 335.6 L275.5 307.7 L276.5 261 L281.1 261 L282.3 307.1 L283.1 324.2 L284.1 339.3 L285.3 350.5 L286.7 359.5 L288.5 366.8 L289.5 369.7 L290.5 371.9 L292.2 374.4 L293.1 375.2 L294.1 375.9 L295.2 376.3 L296.2 376.3 L297.2 376 L298.1 375.5 L299.9 373.7 L301.6 370.9 L303.1 366.8 L304.4 362 L305.6 355.9 L306.6 348.4 L307.5 339.3 L308.3 328.6 L309.6 299.6 L310.5 261 L315.1 261 L316.2 312.2 L316.9 330 L317.7 345 L318.6 357.2 L319.7 368 L321.1 377 L322.8 384.1 L324.9 390.1 L327.3 394.8 L328.7 396.9 L330.3 398.6 L333.7 401.6 L335.8 402.8 L338.1 403.9 L343.4 405.6 L349.5 406.7 L356.5 407.1 L363.4 406.7 L369.7 405.6 L375 403.9 L377.3 402.8 L379.4 401.6 L382.8 398.6 L384.4 396.9 L385.8 394.8 L388.2 390.1 L390.3 384.1 L392 377 L393.4 368 L394.5 357.2 L395.4 345 L396.2 330 L396.9 312.2 L398 261 L402.6 261 L403.5 299.6 L404.7 326.5 L405.5 337.8 L406.4 347.3 L407.4 355.1 L408.6 361.4 L409.8 366.4 L411.3 370.3 L412.9 373.4 L414.7 375.3 L415.6 375.9 L416.7 376.3 L417.7 376.3 L418.7 376 L419.7 375.4 L420.6 374.6 L422.4 372.1 L423.5 370 L424.5 367.2 L426.3 360.2 L427.8 350.5 L429 339.3 L430 324.2 L430.8 307.1 L432 261 L436.6 261 L438 320.1 L438.8 338.2 L439.8 354.1 L441.2 368 L442.1 374.1 L443.1 379.5 L444.3 384.1 L445.6 388.1 L447.1 391.8 L448.8 394.8 L448.8 416Z" fill="#EB6235" fill-opacity="0.2" stroke="none"/>
<path d="M268.8 416 L268.8 405.3 L273.3 403.7 L277 401.7 L280.2 399.1 L282.9 395.9 L285.3 391.9 L287.2 387.2 L288.7 382 L290.1 375.2 L291.3 367.5 L292.2 359.3 L293.7 336.9 L294.9 305.4 L295.8 261 L300.4 261 L301.7 308.8 L302.5 325.4 L303.5 340.1 L304.7 351 L306.1 359.9 L307.9 367 L308.9 369.9 L309.9 372 L311.7 374.6 L312.6 375.4 L313.7 376 L314.7 376.3 L315.7 376.3 L316.8 375.9 L317.7 375.4 L319.5 373.5 L321.1 370.5 L322.5 366.6 L323.8 361.7 L325 355.5 L326 347.9 L326.9 338.6 L327.7 327.6 L328.8 301.6 L329.9 261 L334.5 261 L335.7 314.3 L336.3 331.5 L337.1 346 L338 357.9 L339.1 368.5 L340.5 377.3 L342.2 384.4 L344.3 390.3 L346.7 394.9 L348.1 396.9 L349.7 398.7 L353.1 401.6 L355.2 402.9 L357.5 404 L362.8 405.6 L369 406.7 L375.9 407.1 L382.6 406.7 L388.6 405.7 L393.8 404.2 L398.1 402 L401.6 399.2 L404.6 395.7 L407 391.4 L409.1 386.1 L410.9 379.2 L412.4 370.3 L413.6 360.6 L414.6 348 L415.5 331.5 L416.1 314.3 L417.3 261 L421.9 261 L423.1 305.3 L423.7 320.5 L424.6 335.3 L425.7 346.7 L426.8 355.5 L428.2 362.8 L429.9 368.5 L431.2 371.5 L432.6 373.8 L434.1 375.4 L435.7 376.2 L437.4 376.2 L438.9 375.6 L440.4 374.1 L441.9 372 L443 369.5 L444.2 366.2 L445.2 362.3 L446.1 357.8 L447.6 346.7 L448.8 333.5 L448.8 416Z" fill="#8778B3" fill-opacity="0.2" stroke="none"/>
<path d="M268.8 416 L268.8 406.9 L276.4 407 L283.7 406.3 L286.9 405.6 L289.9 404.8 L292.6 403.8 L295 402.5 L297.1 401.2 L299 399.7 L300.8 397.8 L302.4 395.8 L303.8 393.5 L305.1 391 L307.2 385 L308.9 378.3 L310.3 369.9 L311.5 359.9 L312.5 347 L313.3 332.9 L313.9 316.3 L315.2 261 L319.8 261 L321 307.1 L321.8 324.2 L322.8 339.3 L324 350.5 L325.4 359.5 L327.2 366.8 L328.2 369.7 L329.2 371.9 L330.9 374.4 L331.8 375.2 L332.8 375.9 L333.9 376.3 L334.9 376.3 L335.9 376 L336.8 375.5 L338.6 373.7 L340.3 370.9 L341.8 366.8 L343.1 362 L344.3 355.9 L345.3 348.4 L346.2 339.3 L347 328.6 L348.3 299.6 L349.2 261 L353.8 261 L354.9 312.2 L355.6 330 L356.4 345 L357.3 357.2 L358.4 368 L359.8 377 L361.5 384.1 L363.6 390.1 L366 394.8 L367.4 396.9 L369 398.6 L372.4 401.6 L374.5 402.8 L376.8 403.9 L382.1 405.6 L388.2 406.7 L395.2 407.1 L401.9 406.7 L407.9 405.8 L413.1 404.2 L417.4 402 L419.4 400.6 L421 399.2 L424 395.6 L426.4 391.3 L428.5 385.9 L430.3 378.9 L431.8 369.9 L433 359.9 L434 347 L434.8 332.9 L435.4 316.3 L436.7 261 L441.3 261 L442.4 303.5 L443 319.2 L443.8 332.6 L444.7 343.6 L445.8 353.4 L447.3 361.4 L448.8 367.2 L448.8 416Z" fill="#C56E1A" fill-opacity="0.2" stroke="none"/>
<path d="M268.8 416 L268.8 400.5 L271.8 402.5 L275.1 404.1 L279 405.4 L283.3 406.3 L288.3 406.9 L293.7 407 L299 406.8 L303.9 406.1 L307.8 405.2 L311.2 404.1 L314.2 402.7 L316.9 400.9 L319.2 398.8 L321.3 396.4 L323.1 393.7 L324.7 390.3 L325.9 387.2 L327 383.4 L328.8 375.2 L330.4 364.3 L331.5 351.6 L332.4 336.9 L333.2 318.2 L334.5 261 L339.1 261 L339.9 293.2 L340.5 312 L341.4 329.7 L342.5 342.9 L343.8 353.8 L345.4 362.8 L347.4 369.2 L348.5 371.8 L349.7 373.6 L351.5 375.5 L352.4 376 L353.4 376.3 L354.4 376.3 L355.3 376 L357.1 374.7 L358.8 372.5 L360.2 369.5 L361.6 365.3 L362.8 360.5 L363.9 353.8 L364.8 346.7 L366.4 327.6 L367.5 301.6 L368.6 261 L373.2 261 L374.5 318.2 L375.4 339.4 L376.4 354.9 L377.7 367.5 L379.2 377.3 L381.3 385.7 L382.5 389 L383.7 391.9 L386.3 396.3 L389.4 399.7 L391.2 401.2 L393.1 402.4 L397.5 404.5 L403 406 L409.6 406.9 L416.7 407 L423.6 406.4 L428.7 405.4 L433.2 403.9 L437 401.9 L440.2 399.4 L442.9 396.3 L445.2 392.5 L447.1 388 L448.8 382.5 L448.8 416Z" fill="#5D9EC7" fill-opacity="0.2" stroke="none"/>
<path d="M268.8 416 L268.8 261 L271 261 L271.1 262.4 L271.9 302.9 L272.8 330 L274.1 352.5 L275.7 369 L276.6 374.8 L277.7 380.1 L278.8 384.6 L280.2 388.8 L281.8 392.3 L283.5 395.2 L285.4 397.8 L287.7 400.1 L290.5 402.2 L293.7 403.8 L297.5 405.2 L301.6 406.1 L306.5 406.8 L311.6 407 L316.9 406.9 L321.9 406.4 L325.9 405.6 L329.5 404.5 L332.6 403.2 L335.4 401.5 L337.8 399.5 L339.9 397.3 L341.8 394.6 L343.5 391.5 L344.8 388.5 L345.9 385 L347.9 377 L349.4 367 L350.7 354.1 L351.7 338.2 L352.5 320.1 L353.9 261 L358.5 261 L359.4 299.6 L360.6 326.5 L362.1 346.1 L363.2 354.3 L364.3 360.8 L365.5 365.6 L366.9 369.7 L368.3 372.6 L370 374.8 L371.8 376 L372.7 376.3 L373.7 376.3 L375.5 375.5 L377.3 373.7 L378.6 371.7 L379.8 369.1 L381.7 362.6 L383.4 353.4 L384.6 342.2 L385.7 328.6 L386.6 310.4 L387.3 285.9 L387.9 261 L392.5 261 L393.8 316.3 L394.5 335.6 L395.4 350.7 L396.6 363.7 L397.9 373.3 L399.6 381.7 L401.5 388.1 L402.8 391.3 L404.2 394 L405.7 396.4 L407.5 398.5 L409.6 400.4 L411.8 402 L414.2 403.4 L416.9 404.5 L420.3 405.5 L424 406.3 L428.1 406.8 L432.5 407 L437 407 L441.2 406.7 L445.2 406 L448.8 405.2 L448.8 416Z" fill="#FFBF00" fill-opacity="0.2" stroke="none"/>
<path d="M268.8 416 L268.8 375.6 L269.8 376.1 L270.9 376.3 L272 376.2 L273 375.7 L274.1 375 L275.1 373.8 L276.9 370.7 L278.4 366.6 L279.9 361.1 L281 354.7 L282 346.7 L283.2 333.5 L284.2 315 L285 293.2 L285.8 261 L290.4 261 L291.6 314.3 L292.2 331.5 L293.1 348 L294.1 360.6 L295.3 370.3 L296.8 379.2 L298.6 386.1 L300.7 391.4 L303.1 395.7 L306.1 399.2 L309.6 402 L313.9 404.2 L319.1 405.7 L325.1 406.7 L331.8 407.1 L338.7 406.7 L344.9 405.6 L350.2 404 L352.5 402.9 L354.6 401.6 L358 398.7 L359.6 396.9 L361 394.9 L363.4 390.3 L365.5 384.4 L367.2 377.3 L368.6 368.5 L369.7 357.9 L370.6 346 L371.4 331.5 L372 314.3 L373.2 261 L377.8 261 L378.9 301.6 L380 327.6 L380.8 338.6 L381.7 347.9 L382.7 355.5 L383.9 361.7 L385.2 366.6 L386.6 370.5 L388.2 373.5 L390 375.4 L390.9 375.9 L392 376.3 L393 376.3 L394 376 L395.1 375.4 L396 374.6 L397.8 372 L398.8 369.9 L399.8 367 L401.6 359.9 L403 351 L404.2 340.1 L405.2 325.4 L406 308.8 L407.3 261 L411.9 261 L412.9 310 L414.2 341.7 L415.1 354.9 L416.1 365.4 L417.3 373.7 L418.7 380.9 L420.5 387.2 L422.7 392.5 L425.3 396.6 L426.8 398.4 L428.5 400.1 L430.3 401.4 L432.3 402.7 L437 404.7 L442.5 406.1 L448.8 406.9 L448.8 416Z" fill="#A5609D" fill-opacity="0.2" stroke="none"/>
<path d="M342.1 261 V416 M376.4 261 V416 M274.2 261 V416 M361.5 261 V416 M395.7 261 V416 M293.6 261 V416 M380.8 261 V416 M415.1 261 V416 M278.7 261 V416 M312.9 261 V416 M400.2 261 V416 M434.4 261 V416 M298 261 V416 M332.3 261 V416 M419.5 261 V416 M317.4 261 V416 M351.6 261 V416 M438.9 261 V416 M336.7 261 V416 M371 261 V416 M356.1 261 V416 M390.3 261 V416 M288.2 261 V416 M375.4 261 V416 M409.7 261 V416" stroke="#fff" stroke-width="0.5" stroke-opacity="0.2" fill="none"/>
<path d="M268.8 394.1 L271 397.3 L273.6 399.9 L275.1 401.2 L276.6 402.2 L280.1 404 L284.2 405.4 L289 406.4 L294.3 406.9 L299.8 407 L305.2 406.7 L310.1 406 L314.4 404.9 L318.3 403.3 L321.5 401.4 L324.3 399.1 L326.8 396.3 L328.8 393 L330.3 390 L331.5 386.5 L332.6 383 L333.6 378.6 L334.5 373.7 L335.3 368.5 L336 361.9 L336.7 354.9 L337.7 339.4 L338.6 318.2 L339.3 294.9 L339.9 261 M344.6 261 L345.3 293.2 L346.2 317.9 L347.2 335.3 L347.9 342.9 L348.6 350 L349.5 356.3 L350.6 361.7 L351.6 365.8 L352.9 369.5 L354.3 372.5 L355.8 374.6 L356.6 375.3 L357.5 375.9 L358.3 376.2 L359.2 376.3 L360.1 376.2 L360.9 375.9 L361.8 375.4 L362.5 374.7 L364.1 372.7 L365.5 369.9 L366.6 366.6 L367.8 362.3 L368.8 357.1 L369.7 351 L370.5 344.2 L371.1 337 L372.3 317.9 L373.2 293.2 L373.9 261 M378.6 261 L379.2 294.9 L379.9 318.2 L380.8 339.4 L381.8 354.9 L383.1 367.5 L383.9 372.9 L384.8 377.9 L385.8 382.5 L386.8 386.1 L388.1 389.6 L389.5 392.7 L391.5 395.9 L393.8 398.7 L396.5 401.1 L399.6 403 L403.2 404.6 L407.1 405.7 L411.8 406.5 L416.8 407 L422.3 407 L427.7 406.6 L432.6 405.8 L437 404.5 L440.6 402.9 L443.8 400.9 L446.5 398.4 L448.8 395.5" fill="none" stroke="#5E81B5" stroke-width="1.5" stroke-dasharray="9 5.5" stroke-linejoin="round"/>
<path d="M268.8 339.3 L269.8 324.2 L270.6 307.1 L271.2 285.9 L271.8 261 M276.5 261 L277 291.9 L277.5 312.2 L278.2 330 L279 345 L279.9 357.2 L281 368 L282.4 377 L284.1 384.1 L285.1 387.4 L286.2 390.1 L287.3 392.6 L288.6 394.8 L290 396.9 L291.6 398.6 L293.2 400.2 L295 401.6 L297.1 402.8 L299.4 403.9 L302 404.9 L304.7 405.6 L307.6 406.2 L310.8 406.7 L314.3 407 L317.8 407.1 L321.3 407 L324.7 406.7 L327.9 406.3 L331 405.6 L333.7 404.9 L336.3 403.9 L338.6 402.8 L340.7 401.6 L342.5 400.2 L344.1 398.6 L345.7 396.9 L347.1 394.8 L348.4 392.6 L349.5 390.1 L350.6 387.4 L351.6 384.1 L353.3 377 L354.7 368 L355.8 357.2 L356.7 345 L357.5 330 L358.2 312.2 L358.7 291.9 L359.2 261 M363.9 261 L364.6 290.9 L365.5 316.5 L366.6 336.1 L367.3 343.6 L368.1 350.5 L369 356.7 L370 362 L371.1 366.4 L372.3 369.7 L373.7 372.6 L375.3 374.6 L376 375.3 L376.9 375.9 L377.7 376.2 L378.6 376.3 L379.5 376.2 L380.3 375.9 L381.2 375.3 L381.9 374.6 L383.5 372.6 L384.9 369.7 L386.1 366.4 L387.2 362 L388.2 356.7 L389.1 350.5 L389.9 343.6 L390.6 336.1 L391.7 316.5 L392.6 290.9 L393.3 261 M398 261 L398.5 291.9 L399 312.2 L399.8 332.9 L400.7 348.9 L401.9 362.5 L403.2 372.5 L404.7 380.6 L405.6 384.1 L406.6 387.4 L407.8 390.4 L409.1 393.1 L410.5 395.4 L412 397.5 L413.8 399.4 L415.8 401 L417.9 402.5 L420.3 403.7 L423 404.7 L426 405.6 L429.4 406.3 L433.1 406.8 L437.1 407 L441.1 407 L445.1 406.8 L448.8 406.4" fill="none" stroke="#E19C24" stroke-width="1.15" stroke-linejoin="round"/>
<path d="M268.8 365.8 L269.7 368.5 L270.6 370.7 L271.6 372.7 L272.7 374.1 L273.8 375.3 L275 376 L276.1 376.3 L277.4 376.2 L278.6 375.7 L279.7 374.7 L280.9 373.3 L281.9 371.5 L282.8 369.5 L283.7 367 L285.3 361.1 L286.4 354.7 L287.4 346.7 L288.2 338.6 L289 327.6 L289.6 315 L290.3 297.5 L291.1 261 M295.8 261 L296.3 288.8 L296.8 310 L297.5 328.5 L298.4 346 L299.3 357.9 L300.4 368.5 L301.8 377.3 L303.5 384.4 L304.5 387.6 L305.6 390.3 L306.7 392.7 L308 394.9 L309.4 396.9 L311 398.7 L312.6 400.3 L314.4 401.6 L316.5 402.9 L318.8 404 L321.4 404.9 L324.1 405.6 L327 406.2 L330.3 406.7 L333.7 407 L337.2 407.1 L340.7 407 L344.1 406.7 L347.4 406.2 L350.3 405.6 L353 404.9 L355.6 404 L357.9 402.9 L360 401.6 L361.8 400.3 L363.4 398.7 L365 396.9 L366.4 394.9 L367.7 392.7 L368.8 390.3 L369.9 387.6 L370.9 384.4 L372.6 377.3 L374 368.5 L375.1 357.9 L376 346 L376.9 328.5 L377.6 310 L378.1 288.8 L378.6 261 M383.3 261 L384 293.2 L384.9 317.9 L385.9 335.3 L386.6 342.9 L387.3 350 L388.2 356.3 L389.3 361.7 L390.3 365.8 L391.6 369.5 L393 372.5 L394.5 374.6 L395.3 375.3 L396.2 375.9 L397 376.2 L397.9 376.3 L398.8 376.2 L399.6 375.9 L400.5 375.4 L401.2 374.7 L402.8 372.7 L404.2 369.9 L405.3 366.6 L406.5 362.3 L407.5 357.1 L408.4 351 L409.2 344.2 L409.8 337 L411 317.9 L411.9 293.2 L412.6 261 M417.3 261 L418.2 305.4 L418.8 325.3 L419.5 339.4 L420.3 351.6 L421.3 363.1 L422.4 372.1 L423.7 379.2 L425.3 385.2 L426.2 388 L427.2 390.6 L428.2 392.7 L429.4 394.7 L430.7 396.6 L432.1 398.3 L433.6 399.8 L435.3 401.2 L437.1 402.4 L439 403.4 L441.2 404.3 L443.5 405.1 L446.1 405.8 L448.8 406.3" fill="none" stroke="#8FB032" stroke-width="1.5" stroke-dasharray="9 5.5" stroke-linejoin="round"/>
<path d="M268.8 384.1 L270.5 377 L271.9 368 L273 357.2 L273.9 345 L274.7 330 L275.4 312.2 L275.9 291.9 L276.4 261 M281.1 261 L281.8 290.9 L282.7 316.5 L283.8 336.1 L284.5 343.6 L285.3 350.5 L286.2 356.7 L287.2 362 L288.3 366.4 L289.5 369.7 L290.9 372.6 L292.5 374.6 L293.2 375.3 L294.1 375.9 L294.9 376.2 L295.8 376.3 L296.7 376.2 L297.5 375.9 L298.4 375.3 L299.1 374.6 L300.7 372.6 L302.1 369.7 L303.3 366.4 L304.4 362 L305.4 356.7 L306.3 350.5 L307.1 343.6 L307.8 336.1 L308.9 316.5 L309.8 290.9 L310.5 261 M315.2 261 L315.7 291.9 L316.2 312.2 L316.9 330 L317.7 345 L318.6 357.2 L319.7 368 L321.1 377 L322.8 384.1 L323.8 387.4 L324.9 390.1 L326 392.6 L327.3 394.8 L328.7 396.9 L330.3 398.6 L331.9 400.2 L333.7 401.6 L335.8 402.8 L338.1 403.9 L340.7 404.9 L343.4 405.6 L346.3 406.2 L349.5 406.7 L353 407 L356.5 407.1 L360 407 L363.4 406.7 L366.6 406.3 L369.7 405.6 L372.4 404.9 L375 403.9 L377.3 402.8 L379.4 401.6 L381.2 400.2 L382.8 398.6 L384.4 396.9 L385.8 394.8 L387.1 392.6 L388.2 390.1 L389.3 387.4 L390.3 384.1 L392 377 L393.4 368 L394.5 357.2 L395.4 345 L396.2 330 L396.9 312.2 L397.4 291.9 L397.9 261 M402.6 261 L403.3 290.9 L404.2 316.5 L405.3 336.1 L406 343.6 L406.8 350.5 L407.7 356.7 L408.7 362 L409.8 366.4 L411 369.7 L412.4 372.6 L414 374.6 L414.7 375.3 L415.6 375.9 L416.4 376.2 L417.3 376.3 L418.2 376.2 L419 375.9 L419.9 375.3 L420.6 374.6 L422.2 372.6 L423.6 369.7 L424.8 366.4 L425.9 362 L426.9 356.7 L427.8 350.5 L428.6 343.6 L429.3 336.1 L430.4 316.5 L431.3 290.9 L432 261 M436.7 261 L437.2 291.9 L438 320.1 L438.9 340.6 L439.5 350.7 L440.2 358.6 L441 365.9 L441.7 371.7 L442.6 377 L443.5 381.2 L444.6 385 L445.8 388.8 L447.3 392.1 L448.8 394.8" fill="none" stroke="#EB6235" stroke-width="1.15" stroke-linejoin="round"/>
<path d="M268.8 405.3 L271.1 404.6 L273.2 403.8 L275.1 402.9 L276.9 401.8 L278.4 400.7 L280 399.4 L281.4 397.9 L282.7 396.3 L284.9 392.7 L286.8 388.3 L288.5 383 L289.9 376.6 L291 369.4 L292.1 360.6 L293 349.8 L293.7 336.9 L294.4 321.9 L294.9 305.4 L295.8 261 M300.5 261 L301.2 293.2 L302.1 317.9 L303.1 335.3 L303.8 342.9 L304.5 350 L305.4 356.3 L306.5 361.7 L307.5 365.8 L308.8 369.5 L310.2 372.5 L311.7 374.6 L312.5 375.3 L313.4 375.9 L314.2 376.2 L315.1 376.3 L316 376.2 L316.8 375.9 L317.7 375.4 L318.4 374.7 L320 372.7 L321.4 369.9 L322.5 366.6 L323.7 362.3 L324.7 357.1 L325.6 351 L326.4 344.2 L327 337 L328.2 317.9 L329.1 293.2 L329.8 261 M334.5 261 L335 288.8 L335.5 310 L336.2 328.5 L337.1 346 L338 357.9 L339.1 368.5 L340.5 377.3 L342.2 384.4 L343.2 387.6 L344.3 390.3 L345.4 392.7 L346.7 394.9 L348.1 396.9 L349.7 398.7 L351.3 400.3 L353.1 401.6 L355.2 402.9 L357.5 404 L360.1 404.9 L362.8 405.6 L365.7 406.2 L369 406.7 L372.4 407 L375.9 407.1 L379.4 407 L382.8 406.7 L386.1 406.2 L389 405.6 L391.7 404.9 L394.3 404 L396.6 402.9 L398.7 401.6 L400.5 400.3 L402.1 398.7 L403.7 396.9 L405.1 394.9 L406.4 392.7 L407.5 390.3 L408.6 387.6 L409.6 384.4 L411.3 377.3 L412.7 368.5 L413.8 357.9 L414.7 346 L415.6 328.5 L416.3 310 L416.8 288.8 L417.3 261 M422 261 L422.4 283.3 L423.1 305.3 L423.7 320.5 L424.6 335.3 L425.7 346.7 L426.8 355.5 L428.2 362.8 L429 365.8 L429.9 368.5 L431.2 371.5 L432.6 373.8 L434.1 375.4 L434.9 375.9 L435.7 376.2 L436.5 376.3 L437.4 376.2 L438.1 376 L438.9 375.6 L440.4 374.1 L441.9 372 L443 369.5 L444.2 366.2 L445.2 362.3 L446.1 357.8 L446.9 352.9 L447.6 346.7 L448.8 333.5" fill="none" stroke="#8778B3" stroke-width="1.5" stroke-dasharray="9 5.5" stroke-linejoin="round"/>
<path d="M268.8 406.9 L272.5 407 L276.3 407 L280 406.8 L283.5 406.3 L286.7 405.7 L289.6 404.9 L292.2 403.9 L294.6 402.8 L296.7 401.5 L298.6 400 L300.4 398.2 L302 396.4 L303.4 394.2 L304.7 391.8 L305.8 389.2 L307 385.9 L307.9 382.7 L308.8 378.9 L310.3 369.9 L311.5 359.9 L312.5 347 L313.4 330 L314.1 312.2 L314.6 291.9 L315.1 261 M319.8 261 L320.5 290.9 L321.4 316.5 L322.5 336.1 L323.2 343.6 L324 350.5 L324.9 356.7 L325.9 362 L327 366.4 L328.2 369.7 L329.6 372.6 L331.2 374.6 L331.9 375.3 L332.8 375.9 L333.6 376.2 L334.5 376.3 L335.4 376.2 L336.2 375.9 L337.1 375.3 L337.8 374.6 L339.4 372.6 L340.8 369.7 L342 366.4 L343.1 362 L344.1 356.7 L345 350.5 L345.8 343.6 L346.5 336.1 L347.6 316.5 L348.5 290.9 L349.2 261 M353.9 261 L354.4 291.9 L354.9 312.2 L355.6 330 L356.4 345 L357.3 357.2 L358.4 368 L359.8 377 L361.5 384.1 L362.5 387.4 L363.6 390.1 L364.7 392.6 L366 394.8 L367.4 396.9 L369 398.6 L370.6 400.2 L372.4 401.6 L374.5 402.8 L376.8 403.9 L379.4 404.9 L382.1 405.6 L385 406.2 L388.2 406.7 L391.7 407 L395.2 407.1 L398.7 407 L402.1 406.7 L405.3 406.3 L408.4 405.6 L411.1 404.9 L413.7 403.9 L416 402.8 L418.1 401.6 L419.9 400.2 L421.5 398.6 L423.1 396.9 L424.5 394.8 L425.8 392.6 L426.9 390.1 L428 387.4 L429 384.1 L430.7 377 L432.1 368 L433.2 357.2 L434.1 345 L434.9 330 L435.6 312.2 L436.1 291.9 L436.6 261 M441.3 261 L441.9 285.9 L442.4 303.5 L443 319.2 L443.8 332.6 L444.7 343.6 L445.8 353.4 L447.3 361.4 L448.8 367.2" fill="none" stroke="#C56E1A" stroke-width="1.15" stroke-linejoin="round"/>
<path d="M268.8 400.5 L271.6 402.4 L275 404.1 L278.7 405.3 L282.9 406.2 L287.8 406.8 L293 407.1 L298.1 406.9 L303 406.3 L307 405.5 L310.5 404.4 L313.5 403 L316.2 401.4 L318.7 399.4 L320.7 397.1 L322.5 394.5 L324.2 391.4 L325.5 388.3 L326.7 384.8 L327.7 380.9 L328.6 376.6 L329.4 372.1 L330.1 366.4 L331.4 353.3 L332.4 336.9 L333.2 318.2 L333.9 294.9 L334.5 261 M339.2 261 L339.9 293.2 L340.8 317.9 L341.8 335.3 L342.5 342.9 L343.2 350 L344.1 356.3 L345.2 361.7 L346.2 365.8 L347.5 369.5 L348.9 372.5 L350.4 374.6 L351.2 375.3 L352.1 375.9 L352.9 376.2 L353.8 376.3 L354.7 376.2 L355.5 375.9 L356.4 375.4 L357.1 374.7 L358.7 372.7 L360.1 369.9 L361.2 366.6 L362.4 362.3 L363.4 357.1 L364.3 351 L365.1 344.2 L365.7 337 L366.9 317.9 L367.8 293.2 L368.5 261 M373.2 261 L373.8 294.9 L374.6 321.9 L375.5 341.7 L376.7 357.9 L378.1 370.3 L379 375.9 L380 380.9 L381 384.8 L382.3 388.7 L383.7 391.9 L385.3 394.7 L386.6 396.6 L388 398.3 L389.5 399.8 L391.3 401.3 L393.3 402.5 L395.3 403.6 L397.6 404.5 L400.1 405.3 L402.9 406 L406 406.5 L409.2 406.8 L412.7 407 L416.1 407 L419.5 406.9 L422.8 406.5 L425.9 406 L430.5 404.9 L434.5 403.3 L436.2 402.4 L437.9 401.3 L439.4 400.1 L440.8 398.7 L442.1 397.3 L443.3 395.7 L444.4 393.9 L445.5 391.9 L447.3 387.6 L448.8 382.5" fill="none" stroke="#5D9EC7" stroke-width="1.5" stroke-dasharray="9 5.5" stroke-linejoin="round"/>
<path d="M271.1 261 L271.6 291.9 L272.1 312.2 L272.8 330 L273.6 345 L274.5 357.2 L275.6 368 L277 377 L278.7 384.1 L279.7 387.4 L280.8 390.1 L281.9 392.6 L283.2 394.8 L284.6 396.9 L286.2 398.6 L287.8 400.2 L289.6 401.6 L291.7 402.8 L294 403.9 L296.6 404.9 L299.3 405.6 L302.2 406.2 L305.4 406.7 L308.9 407 L312.4 407.1 L315.9 407 L319.3 406.7 L322.5 406.3 L325.6 405.6 L328.3 404.9 L330.9 403.9 L333.2 402.8 L335.3 401.6 L337.1 400.2 L338.7 398.6 L340.3 396.9 L341.7 394.8 L343 392.6 L344.1 390.1 L345.2 387.4 L346.2 384.1 L347.9 377 L349.3 368 L350.4 357.2 L351.3 345 L352.1 330 L352.8 312.2 L353.3 291.9 L353.8 261 M358.5 261 L359.2 290.9 L360.1 316.5 L361.2 336.1 L361.9 343.6 L362.7 350.5 L363.6 356.7 L364.6 362 L365.7 366.4 L366.9 369.7 L368.3 372.6 L369.9 374.6 L370.6 375.3 L371.5 375.9 L372.3 376.2 L373.2 376.3 L374.1 376.2 L374.9 375.9 L375.8 375.3 L376.5 374.6 L378.1 372.6 L379.5 369.7 L380.7 366.4 L381.8 362 L382.8 356.7 L383.7 350.5 L384.5 343.6 L385.2 336.1 L386.3 316.5 L387.2 290.9 L387.9 261 M392.6 261 L393.1 291.9 L393.8 316.3 L394.5 335.6 L395.4 350.7 L396.6 363.7 L398 374.1 L398.8 378.3 L399.7 382.2 L400.7 385.9 L401.9 389.2 L403.2 392.1 L404.6 394.6 L406.2 397 L408 399 L410.1 400.8 L412.3 402.3 L414.7 403.6 L417.4 404.7 L420.8 405.6 L424.5 406.4 L428.6 406.8 L432.9 407 L437.2 407 L441.3 406.6 L445.2 406 L448.8 405.2" fill="none" stroke="#FFBF00" stroke-width="1.15" stroke-linejoin="round"/>
<path d="M268.8 375.6 L269.7 376.1 L270.7 376.3 L271.8 376.2 L272.7 375.9 L273.6 375.4 L274.5 374.6 L275.4 373.5 L276.1 372.2 L277.7 368.9 L279 364.9 L280.1 359.9 L281.1 353.8 L281.9 347.9 L282.7 340.1 L283.3 331.6 L284 320.5 L285 293.2 L285.7 261 M290.4 261 L290.9 288.8 L291.4 310 L292.1 328.5 L293 346 L293.9 357.9 L295 368.5 L296.4 377.3 L298.1 384.4 L299.1 387.6 L300.2 390.3 L301.3 392.7 L302.6 394.9 L304 396.9 L305.6 398.7 L307.2 400.3 L309 401.6 L311.1 402.9 L313.4 404 L316 404.9 L318.7 405.6 L321.6 406.2 L324.9 406.7 L328.3 407 L331.8 407.1 L335.3 407 L338.7 406.7 L342 406.2 L344.9 405.6 L347.6 404.9 L350.2 404 L352.5 402.9 L354.6 401.6 L356.4 400.3 L358 398.7 L359.6 396.9 L361 394.9 L362.3 392.7 L363.4 390.3 L364.5 387.6 L365.5 384.4 L367.2 377.3 L368.6 368.5 L369.7 357.9 L370.6 346 L371.5 328.5 L372.2 310 L372.7 288.8 L373.2 261 M377.9 261 L378.6 293.2 L379.5 317.9 L380.5 335.3 L381.2 342.9 L381.9 350 L382.8 356.3 L383.9 361.7 L384.9 365.8 L386.2 369.5 L387.6 372.5 L389.1 374.6 L389.9 375.3 L390.8 375.9 L391.6 376.2 L392.5 376.3 L393.4 376.2 L394.2 375.9 L395.1 375.4 L395.8 374.7 L397.4 372.7 L398.8 369.9 L399.9 366.6 L401.1 362.3 L402.1 357.1 L403 351 L403.8 344.2 L404.4 337 L405.6 317.9 L406.5 293.2 L407.2 261 M411.9 261 L412.4 288.8 L412.9 310 L413.6 328.5 L414.3 343.9 L415.2 356.4 L416.3 366.4 L417.6 375.2 L419.1 382.5 L420.9 388.3 L421.9 390.8 L423.1 393.2 L424.4 395.3 L425.7 397.1 L427.2 398.8 L428.9 400.4 L430.7 401.7 L432.7 402.9 L434.9 404 L437.2 404.8 L439.8 405.6 L442.6 406.2 L445.6 406.6 L448.8 406.9" fill="none" stroke="#A5609D" stroke-width="1.5" stroke-dasharray="9 5.5" stroke-linejoin="round"/>
</g>
<g id="pf">
<path d="M493.6 416 L493.6 411.2 L525.6 410.1 L540.8 409.9 L556 410.1 L586.9 411.2 L601 411.4 L617.7 411.1 L652.6 410 L673.6 410 L673.6 416Z" fill="#5E81B5" fill-opacity="0.2" stroke="none"/>
<path d="M493.6 416 L493.6 409.5 L525.6 407.2 L540.8 406.8 L556.1 407.3 L586.3 409.4 L601 409.8 L609.6 409.7 L618.3 409.3 L643.3 407.5 L652.4 407 L663.1 406.8 L673.6 407 L673.6 416Z" fill="#E19C24" fill-opacity="0.2" stroke="none"/>
<path d="M493.6 416 L493.6 407.6 L503.5 406.5 L525.5 403.3 L532.9 402.7 L540.8 402.6 L548.8 402.7 L556.2 403.3 L577.2 406.4 L585.5 407.4 L593.2 407.9 L601 408.1 L610.1 407.9 L619.2 407.2 L627.1 406.2 L643.3 403.8 L651.6 402.9 L662.7 402.6 L673.6 403 L673.6 416Z" fill="#8FB032" fill-opacity="0.2" stroke="none"/>
<path d="M493.6 416 L493.6 404.6 L499.3 403.5 L504.8 402 L509.8 400.2 L520 396.2 L525.1 394.6 L528.3 394 L531.7 393.6 L540.8 393.3 L549.1 393.5 L555.1 394.3 L560.5 395.8 L573.8 401 L581.4 403.3 L586 404.3 L590.9 405.1 L596.1 405.5 L601.2 405.7 L606.5 405.5 L611.6 405.1 L616.5 404.4 L621.3 403.4 L629.1 401.1 L643 395.6 L646.2 394.7 L649.4 394 L654.1 393.5 L660 393.3 L668.2 393.4 L673.6 393.8 L673.6 416Z" fill="#EB6235" fill-opacity="0.2" stroke="none"/>
<path d="M493.6 416 L493.6 398.8 L497.5 396.8 L500.9 394.2 L503.9 391 L506.5 387.2 L508.6 382.7 L510.6 377.4 L512.2 371.2 L513.8 363.5 L514.9 355.7 L516 346.8 L517.6 325.5 L518.9 298.5 L520.1 261 L527.8 261 L528.8 285.2 L529.7 301.5 L530.9 316.1 L532.3 328.3 L534 337.8 L535 341.9 L536 345 L537.2 347.6 L538.3 349.3 L539.5 350.4 L540.8 350.8 L542.1 350.3 L543.2 349.3 L544.4 347.5 L545.5 344.9 L547.5 338.1 L549.1 328.8 L550.6 316.9 L551.7 302.6 L552.7 284.1 L553.6 261 L561.5 261 L562.9 306.3 L563.7 322 L564.6 335.7 L565.7 348.6 L567 358.9 L568.6 367.9 L570.4 375.4 L572.5 381.9 L575 387.1 L577.9 391.4 L581.3 394.8 L583.2 396.3 L585.4 397.6 L590.2 399.6 L595.6 400.9 L601.5 401.3 L607 400.9 L612.1 399.8 L616.6 398.1 L620.6 395.7 L624 392.7 L626.9 388.9 L629.4 384.5 L631.6 379 L633.6 371.8 L635.4 362.7 L636.8 352.7 L638.1 339.9 L639.1 325.5 L640 308.1 L641.6 261 L649.3 261 L651 297.4 L651.9 310.3 L653 322.3 L654.3 331.7 L655.7 338.9 L657.4 344.7 L658.3 346.8 L659.3 348.7 L660.5 350 L661.6 350.7 L662.8 350.7 L664 350.1 L665.1 348.8 L666.1 347 L667.2 344.5 L668.2 341.2 L669.9 333.6 L671.3 324 L672.6 311.2 L673.6 296.5 L673.6 416Z" fill="#8778B3" fill-opacity="0.2" stroke="none"/>
<path d="M493.6 416 L493.6 400.5 L496.9 401 L500.3 401.3 L503.8 401.2 L507.1 400.9 L510.3 400.3 L513.3 399.5 L516.1 398.4 L518.7 397.1 L521 395.5 L523 393.7 L525 391.7 L526.6 389.5 L528.2 387 L529.6 384.2 L532.2 377.4 L534.1 370.1 L535.8 361.1 L537.2 350.4 L538.3 338.3 L539.4 323.4 L540.1 308.1 L541.7 261 L549.4 261 L550.4 285.2 L551.3 301.5 L552.5 316.1 L553.9 328.3 L555.6 337.8 L556.6 341.9 L557.6 345 L558.8 347.6 L559.9 349.3 L561.1 350.4 L562.4 350.8 L563.7 350.3 L564.8 349.3 L566 347.5 L567.1 344.9 L569.1 338.1 L570.7 328.8 L572.2 316.9 L573.3 302.6 L574.3 284.1 L575.2 261 L583.1 261 L584.5 306.3 L585.3 322 L586.2 335.7 L587.3 348.6 L588.6 358.9 L590.2 367.9 L592 375.4 L594.1 381.9 L596.6 387.1 L599.5 391.4 L602.9 394.8 L604.8 396.3 L607 397.6 L611.8 399.6 L617.2 400.9 L623.1 401.3 L628.6 400.9 L633.7 399.8 L638.2 398.1 L642.2 395.7 L645.6 392.7 L648.5 388.9 L651 384.5 L653.2 379 L655.2 371.8 L657 362.7 L658.4 352.7 L659.7 339.9 L660.7 325.5 L661.6 308.1 L663.2 261 L670.9 261 L672.2 290.4 L673.6 311.8 L673.6 416Z" fill="#C56E1A" fill-opacity="0.2" stroke="none"/>
<path d="M493.6 416 L493.6 397.9 L496.7 399.2 L500.2 400.3 L503.8 400.9 L507.6 401.3 L511.6 401.2 L515.5 400.8 L519.1 400 L522.4 398.9 L525.2 397.6 L527.8 396 L530.1 394.2 L532.2 392.1 L534.1 389.6 L535.9 386.7 L537.4 383.6 L538.9 380 L541 372.7 L542.8 364.1 L544.4 353.5 L545.7 341.1 L546.7 327.2 L547.6 310.4 L549.3 261 L557 261 L558 285.8 L558.9 301.9 L560.1 316.4 L561.5 328.5 L563.2 337.9 L564.2 342 L565.2 345.1 L566.4 347.6 L567.5 349.4 L568.7 350.4 L570 350.8 L571.3 350.3 L572.4 349.2 L573.6 347.4 L574.7 344.8 L576.7 338 L578.3 328.7 L579.7 316.7 L580.9 302.3 L581.8 286.3 L582.8 261 L590.7 261 L592 303.8 L592.7 320.2 L593.8 336 L594.9 348.8 L596.2 359.1 L597.7 368 L599.5 375.5 L601.7 382 L604.2 387.1 L607.1 391.5 L608.8 393.3 L610.6 394.9 L612.5 396.4 L614.7 397.7 L619.5 399.7 L624.9 400.9 L630.7 401.3 L636.4 400.9 L641.7 399.7 L646.3 397.8 L648.5 396.6 L650.5 395.2 L653.8 391.9 L656.8 387.8 L659.2 383 L661.4 376.9 L663.3 369.4 L664.9 360.9 L666.3 350.2 L667.4 338 L668.5 322.9 L669.2 307.5 L670.6 261.9 L670.8 261 L673.6 261 L673.6 416Z" fill="#5D9EC7" fill-opacity="0.2" stroke="none"/>
<path d="M493.6 416 L493.6 394.2 L496.4 396.4 L499.5 398.1 L503 399.5 L506.8 400.5 L511.1 401.1 L515.5 401.3 L519.7 401 L523.8 400.2 L527.3 399.1 L530.4 397.8 L533.2 396 L535.8 393.9 L538.1 391.5 L540.1 388.6 L541.9 385.5 L543.6 381.7 L545.9 374.7 L547.9 366.2 L549.5 355.5 L550.9 342.5 L552.1 327.2 L553 310.4 L554.7 261 L562.4 261 L563.4 285.8 L564.3 301.9 L565.5 316.4 L566.9 328.5 L568.6 337.9 L569.6 342 L570.6 345.1 L571.8 347.6 L572.9 349.4 L574.1 350.4 L575.4 350.8 L576.7 350.3 L577.8 349.2 L579 347.4 L580.1 344.8 L582.1 338 L583.7 328.7 L585.1 316.7 L586.3 302.3 L587.2 286.3 L588.2 261 L596.1 261 L597.1 297.1 L598.4 324.7 L599.3 337.7 L600.2 347.6 L601.2 356.3 L602.4 363.9 L603.7 370.4 L605.2 376.4 L607 381.7 L608.9 385.9 L611.1 389.6 L613.7 392.8 L616.5 395.4 L619.7 397.5 L622.2 398.7 L624.7 399.6 L627.4 400.3 L630.4 400.9 L636.6 401.3 L642.6 400.8 L648 399.4 L650.5 398.4 L652.8 397.3 L654.8 395.9 L656.8 394.4 L658.6 392.7 L660.2 390.7 L662.8 386.7 L665.1 381.7 L667.2 375.6 L668.8 368.8 L670.3 360.9 L671.5 351.4 L672.7 339.6 L673.6 327.2 L673.6 416Z" fill="#FFBF00" fill-opacity="0.2" stroke="none"/>
<path d="M493.6 416 L493.6 388.2 L496 391.6 L498.7 394.4 L501.8 396.7 L505.4 398.6 L509.4 400 L513.9 400.9 L518.7 401.3 L523.4 401.1 L527.7 400.4 L531.7 399.3 L535.3 397.7 L538.5 395.7 L541.3 393.3 L543.9 390.3 L546.1 386.9 L548 382.9 L550.4 376 L552.5 367.4 L554.3 356.3 L555.7 343.6 L556.9 328.8 L557.9 309.8 L558.7 289.7 L559.4 261 L567.3 261 L568.9 298.2 L569.8 310.9 L571 322.7 L572.3 332 L573.8 339.7 L575.5 345.1 L576.4 347.2 L577.4 348.9 L578.8 350.3 L580.3 350.8 L581.7 350.2 L583.1 348.7 L584.4 346.3 L585.7 342.8 L586.8 338.5 L587.8 333.4 L589.5 321.4 L590.9 305.6 L592 288.4 L593.1 261 L600.8 261 L602.6 313.2 L603.7 331.1 L604.9 346.6 L606.5 359.3 L608.3 369.4 L610.5 377.7 L613 384.4 L615.7 389.2 L619 393.2 L620.8 394.9 L622.8 396.4 L627.2 398.7 L629.8 399.7 L632.5 400.4 L638.4 401.2 L644.5 401.1 L650.3 400.2 L654.8 398.7 L658.8 396.5 L662.3 393.8 L665.2 390.5 L667.8 386.4 L670 381.7 L671.9 376 L673.6 369.3 L673.6 416Z" fill="#A5609D" fill-opacity="0.2" stroke="none"/>
<path d="M523.6 261 V416 M557.9 261 V416 M645.1 261 V416 M545.2 261 V416 M579.5 261 V416 M666.7 261 V416 M552.8 261 V416 M587.1 261 V416 M558.2 261 V416 M592.5 261 V416 M563 261 V416 M597.3 261 V416" stroke="#fff" stroke-width="0.5" stroke-opacity="0.2" fill="none"/>
<path d="M493.6 411.2 L524.3 410.1 L537.4 409.9 L552.9 410 L584.6 411.1 L601.1 411.4 L617.8 411.1 L652.6 410 L663.1 409.9 L673.6 410" fill="none" stroke="#5E81B5" stroke-width="1.5" stroke-dasharray="9 5.5" stroke-linejoin="round"/>
<path d="M493.6 409.5 L503 408.9 L524.3 407.3 L537.2 406.8 L545.2 406.8 L553 407.1 L560.6 407.5 L584.1 409.3 L592.7 409.7 L601.1 409.8 L609.7 409.7 L618.4 409.3 L643.3 407.5 L652.4 407 L663.1 406.8 L673.6 407" fill="none" stroke="#E19C24" stroke-width="1.15" stroke-linejoin="round"/>
<path d="M493.6 407.6 L503.6 406.5 L524.2 403.5 L530.2 402.9 L536.5 402.6 L545.2 402.6 L553.3 403.1 L560.5 403.9 L575.6 406.2 L583.2 407.2 L592.1 407.9 L601.1 408.1 L610.2 407.9 L619.2 407.2 L627.1 406.2 L643.3 403.8 L651.6 402.9 L657 402.6 L662.7 402.6 L668.3 402.7 L673.6 403" fill="none" stroke="#8FB032" stroke-width="1.5" stroke-dasharray="9 5.5" stroke-linejoin="round"/>
<path d="M493.6 404.6 L499.4 403.5 L505 401.9 L509.9 400.2 L519.4 396.4 L523.6 395 L528.1 394 L532.9 393.5 L538.7 393.3 L546.1 393.4 L550.4 393.6 L554.2 394.1 L557.1 394.8 L560.2 395.7 L573.8 401 L577.7 402.3 L581.5 403.4 L586.2 404.3 L591.1 405.1 L596.2 405.5 L601.3 405.7 L606.5 405.5 L611.6 405.1 L616.5 404.4 L621.3 403.4 L625.1 402.4 L629.1 401.1 L643 395.6 L646.2 394.7 L649.4 394 L654.1 393.5 L660 393.3 L668.2 393.4 L673.6 393.8" fill="none" stroke="#EB6235" stroke-width="1.15" stroke-linejoin="round"/>
<path d="M493.6 398.8 L495.5 397.9 L497.3 396.9 L499 395.8 L500.7 394.4 L502.1 393.1 L503.5 391.5 L504.8 389.8 L506.1 387.9 L508.3 383.6 L510.2 378.6 L511.9 372.8 L513.3 366.3 L514.6 358.5 L515.7 349.3 L516.6 339.9 L517.5 327.6 L518.3 313.7 L518.9 298.5 L520 261 M527.9 261 L528.7 282.4 L529.7 301.5 L530.9 316.1 L532.3 328.3 L533.1 333.2 L534 337.8 L535 341.9 L536 345 L537.2 347.6 L538.3 349.3 L539.5 350.4 L540.1 350.7 L540.8 350.8 L541.4 350.6 L542.1 350.3 L543.2 349.3 L544.4 347.5 L545.5 344.9 L546.6 341.7 L547.5 338.1 L548.4 333.6 L549.1 328.8 L550.6 316.9 L551.7 302.6 L552.7 284.1 L553.6 261 M561.5 261 L562.1 284.7 L562.8 303.2 L563.5 319.7 L564.6 335.7 L565.7 348.6 L567 358.9 L568.6 367.9 L570.4 375.4 L571.4 378.8 L572.5 381.9 L573.7 384.6 L575 387.1 L576.4 389.3 L577.9 391.4 L579.6 393.3 L581.3 394.8 L583.2 396.3 L585.4 397.6 L587.7 398.7 L590.2 399.6 L592.7 400.3 L595.6 400.9 L598.5 401.2 L601.5 401.3 L604.4 401.2 L607.3 400.9 L610.1 400.4 L612.7 399.7 L615.1 398.8 L617.4 397.7 L619.6 396.4 L621.5 395 L623.3 393.4 L625 391.5 L626.5 389.5 L628 387.2 L629.2 384.7 L630.4 382.1 L631.6 379 L632.6 375.7 L634.4 368.3 L635.9 359.4 L637.2 349.3 L638.4 336.7 L639.4 321.1 L640.2 305.1 L640.9 283 L641.5 261 M649.4 261 L650.1 279.5 L651 297.4 L651.9 310.3 L653 322.3 L654.3 331.7 L655.7 338.9 L656.5 341.9 L657.4 344.7 L658.3 346.8 L659.3 348.7 L660.5 350 L661.6 350.7 L662.8 350.7 L664 350.1 L665.1 348.8 L666.1 347 L667.2 344.5 L668.2 341.2 L669.1 337.6 L669.9 333.6 L671.3 324 L672.6 311.2 L673.6 296.5" fill="none" stroke="#8778B3" stroke-width="1.5" stroke-dasharray="9 5.5" stroke-linejoin="round"/>
<path d="M493.6 400.5 L496.8 401 L500 401.3 L503.4 401.3 L506.6 401 L509.8 400.4 L512.8 399.7 L515.5 398.7 L518 397.4 L520.2 396.1 L522.3 394.4 L524.2 392.5 L525.9 390.5 L527.5 388.1 L529 385.5 L530.2 382.7 L531.5 379.4 L532.6 376.1 L533.6 372.3 L535.4 363.5 L536.9 352.7 L538.2 339.9 L539.2 325.5 L540.1 308.1 L540.9 287.2 L541.6 261 M549.5 261 L550.3 282.4 L551.3 301.5 L552.5 316.1 L553.9 328.3 L554.7 333.2 L555.6 337.8 L556.6 341.9 L557.6 345 L558.8 347.6 L559.9 349.3 L561.1 350.4 L561.7 350.7 L562.4 350.8 L563 350.6 L563.7 350.3 L564.8 349.3 L566 347.5 L567.1 344.9 L568.2 341.7 L569.1 338.1 L570 333.6 L570.7 328.8 L572.2 316.9 L573.3 302.6 L574.3 284.1 L575.2 261 M583.1 261 L583.7 284.7 L584.4 303.2 L585.1 319.7 L586.2 335.7 L587.3 348.6 L588.6 358.9 L590.2 367.9 L592 375.4 L593 378.8 L594.1 381.9 L595.3 384.6 L596.6 387.1 L598 389.3 L599.5 391.4 L601.2 393.3 L602.9 394.8 L604.8 396.3 L607 397.6 L609.3 398.7 L611.8 399.6 L614.3 400.3 L617.2 400.9 L620.1 401.2 L623.1 401.3 L626 401.2 L628.9 400.9 L631.7 400.4 L634.3 399.7 L636.7 398.8 L639 397.7 L641.2 396.4 L643.1 395 L644.9 393.4 L646.6 391.5 L648.1 389.5 L649.6 387.2 L650.8 384.7 L652 382.1 L653.2 379 L654.2 375.7 L656 368.3 L657.5 359.4 L658.8 349.3 L660 336.7 L661 321.1 L661.8 305.1 L662.5 283 L663.1 261 M671 261 L672.2 290.4 L672.8 301.5 L673.6 311.8" fill="none" stroke="#C56E1A" stroke-width="1.15" stroke-linejoin="round"/>
<path d="M493.6 397.9 L496.6 399.2 L499.8 400.2 L503.2 400.9 L507 401.2 L510.7 401.3 L514.4 400.9 L518 400.3 L521.4 399.3 L524.2 398.1 L526.8 396.7 L529.1 395.1 L531.3 393.1 L533.2 390.8 L535 388.2 L536.7 385.2 L538.1 382.1 L539.4 378.5 L540.5 374.7 L541.6 370.5 L542.5 366.2 L544.1 355.5 L545.5 342.5 L546.7 327.2 L547.6 310.4 L548.5 286.4 L549.2 261 M557.1 261 L557.9 283 L558.9 301.9 L560.1 316.4 L561.5 328.5 L562.3 333.4 L563.2 337.9 L564.2 342 L565.2 345.1 L566.4 347.6 L567.5 349.4 L568.7 350.4 L569.3 350.7 L570 350.8 L570.6 350.6 L571.3 350.3 L572.4 349.2 L573.6 347.4 L574.7 344.8 L575.8 341.6 L576.7 338 L577.6 333.5 L578.3 328.7 L579.7 316.7 L580.9 302.3 L581.9 283.6 L582.8 261 M590.7 261 L591.3 285.6 L592 303.8 L592.7 320.2 L593.8 336 L594.9 348.8 L596.2 359.1 L597.7 368 L599.5 375.5 L600.6 378.8 L601.7 382 L602.9 384.6 L604.2 387.1 L605.6 389.4 L607.1 391.5 L608.8 393.3 L610.6 394.9 L612.5 396.4 L614.7 397.7 L617 398.8 L619.5 399.7 L622 400.3 L624.9 400.9 L627.7 401.2 L630.7 401.3 L633.6 401.2 L636.4 400.9 L639.3 400.4 L641.8 399.7 L644.3 398.8 L646.6 397.7 L648.8 396.4 L650.7 395 L652.5 393.3 L654.2 391.5 L655.7 389.4 L657.1 387.2 L658.4 384.7 L659.6 382.1 L660.7 378.9 L661.8 375.6 L663.6 368.1 L665.1 359.3 L666.4 349 L667.6 336.4 L668.6 320.7 L669.4 304.5 L670 286.4 L670.7 261" fill="none" stroke="#5D9EC7" stroke-width="1.5" stroke-dasharray="9 5.5" stroke-linejoin="round"/>
<path d="M493.6 394.2 L496.3 396.3 L499.3 398 L502.6 399.4 L506.2 400.4 L510.2 401.1 L514.3 401.3 L518.4 401.1 L522.4 400.5 L525.9 399.6 L529 398.4 L531.9 396.9 L534.5 395.1 L536.8 392.9 L539 390.3 L540.9 387.4 L542.6 384.1 L543.9 381.1 L545.2 377.3 L546.3 373.2 L547.3 368.8 L548.2 364.1 L549.1 358.4 L550.7 345.3 L552 329.2 L553 310.4 L553.9 286.4 L554.6 261 M562.5 261 L563.3 283 L564.3 301.9 L565.5 316.4 L566.9 328.5 L567.7 333.4 L568.6 337.9 L569.6 342 L570.6 345.1 L571.8 347.6 L572.9 349.4 L574.1 350.4 L574.7 350.7 L575.4 350.8 L576 350.6 L576.7 350.3 L577.8 349.2 L579 347.4 L580.1 344.8 L581.2 341.6 L582.1 338 L583 333.5 L583.7 328.7 L585.1 316.7 L586.3 302.3 L587.3 283.6 L588.2 261 M596.1 261 L597.1 297.1 L598.3 322.5 L599 334.3 L599.8 343.6 L600.7 352.2 L601.6 359.1 L602.8 366 L604 372.1 L605.5 377.3 L607 381.7 L608.8 385.7 L610.9 389.2 L613 392.1 L615.6 394.6 L617.8 396.3 L620.2 397.7 L622.8 398.9 L625.6 399.9 L628.7 400.6 L631.9 401.1 L635.3 401.3 L638.6 401.2 L641.8 400.9 L644.9 400.3 L647.8 399.5 L650.5 398.4 L652.9 397.2 L655.2 395.7 L657.3 393.9 L659.2 391.9 L660.7 390 L662.2 387.8 L663.4 385.5 L664.6 383 L665.8 380 L666.8 376.9 L668.6 370 L670.1 361.8 L671.4 352.5 L672.6 341.1 L673.6 327.2" fill="none" stroke="#FFBF00" stroke-width="1.15" stroke-linejoin="round"/>
<path d="M493.6 388.2 L495.9 391.5 L498.5 394.2 L501.4 396.5 L504.7 398.3 L508.4 399.7 L512.4 400.7 L516.7 401.2 L521.2 401.2 L525.5 400.8 L529.6 400 L533.3 398.7 L536.7 396.9 L539.6 394.8 L542.2 392.3 L544.5 389.4 L546.6 385.9 L548.1 382.6 L549.4 379.2 L550.6 375.5 L551.7 371 L552.7 366 L553.6 360.8 L554.5 354.3 L555.3 347.6 L556.6 332.6 L557.8 312.6 L558.7 289.7 L559.4 261 M567.3 261 L568.2 283.6 L569.2 302.3 L570.4 316.7 L571.8 328.7 L572.5 333.5 L573.4 338 L574.3 341.6 L575.4 344.8 L576.5 347.4 L577.7 349.2 L578.8 350.3 L579.5 350.6 L580.1 350.8 L580.8 350.7 L581.4 350.4 L582.6 349.4 L583.7 347.6 L584.9 345.1 L585.9 342 L586.9 337.9 L587.8 333.4 L588.6 328.5 L590 316.4 L591.2 301.9 L592.2 283 L593 261 M600.9 261 L601.7 290.5 L602.8 315.8 L603.9 334.7 L604.7 343.9 L605.5 351.4 L606.4 358.4 L607.3 364.1 L608.4 370 L609.6 374.7 L610.9 378.9 L612.4 383 L613.9 386.2 L615.7 389.2 L617.3 391.3 L618.8 393.1 L620.5 394.6 L622.3 396 L624.2 397.3 L626.3 398.3 L628.5 399.2 L630.9 400 L633.6 400.6 L636.3 401 L639.1 401.2 L642.1 401.3 L644.9 401.1 L647.8 400.7 L650.5 400.1 L652.9 399.4 L656.8 397.7 L658.6 396.7 L660.2 395.5 L661.8 394.3 L663.2 392.9 L664.6 391.3 L665.9 389.6 L668.2 385.7 L670.3 381 L672.1 375.5 L673.6 369.3" fill="none" stroke="#A5609D" stroke-width="1.5" stroke-dasharray="9 5.5" stroke-linejoin="round"/>
</g>
<path d="M42.8 424.2 v-2 M42.8 253.8 v2 M48.5 424.2 v-2 M48.5 253.8 v2 M54.2 424.2 v-2 M54.2 253.8 v2 M59.9 424.2 v-2 M59.9 253.8 v2 M65.6 424.2 v-2 M65.6 253.8 v2 M71.3 424.2 v-2 M71.3 253.8 v2 M77 424.2 v-2 M77 253.8 v2 M82.7 424.2 v-2 M82.7 253.8 v2 M88.4 424.2 v-2 M88.4 253.8 v2 M94.1 424.2 v-2 M94.1 253.8 v2 M99.8 424.2 v-2 M99.8 253.8 v2 M105.5 424.2 v-2 M105.5 253.8 v2 M111.2 424.2 v-2 M111.2 253.8 v2 M116.9 424.2 v-2 M116.9 253.8 v2 M122.6 424.2 v-2 M122.6 253.8 v2 M128.3 424.2 v-2 M128.3 253.8 v2 M134 424.2 v-2 M134 253.8 v2 M139.7 424.2 v-2 M139.7 253.8 v2 M145.4 424.2 v-2 M145.4 253.8 v2 M151.1 424.2 v-2 M151.1 253.8 v2 M156.8 424.2 v-2 M156.8 253.8 v2 M162.5 424.2 v-2 M162.5 253.8 v2 M168.2 424.2 v-2 M168.2 253.8 v2 M173.9 424.2 v-2 M173.9 253.8 v2 M179.6 424.2 v-2 M179.6 253.8 v2 M185.3 424.2 v-2 M185.3 253.8 v2 M191 424.2 v-2 M191 253.8 v2 M196.7 424.2 v-2 M196.7 253.8 v2 M202.4 424.2 v-2 M202.4 253.8 v2 M208.1 424.2 v-2 M208.1 253.8 v2 M213.8 424.2 v-2 M213.8 253.8 v2 M219.5 424.2 v-2 M219.5 253.8 v2 M225.2 424.2 v-2 M225.2 253.8 v2 M48.5 424.2 v-3 M48.5 253.8 v3 M77 424.2 v-3 M77 253.8 v3 M105.5 424.2 v-3 M105.5 253.8 v3 M134 424.2 v-3 M134 253.8 v3 M162.5 424.2 v-3 M162.5 253.8 v3 M191 424.2 v-3 M191 253.8 v3 M219.5 424.2 v-3 M219.5 253.8 v3 M41.8 416 h2 M227.2 416 h-2 M41.8 410.5 h2 M227.2 410.5 h-2 M41.8 405 h2 M227.2 405 h-2 M41.8 399.5 h2 M227.2 399.5 h-2 M41.8 394 h2 M227.2 394 h-2 M41.8 388.5 h2 M227.2 388.5 h-2 M41.8 383 h2 M227.2 383 h-2 M41.8 377.5 h2 M227.2 377.5 h-2 M41.8 372 h2 M227.2 372 h-2 M41.8 366.5 h2 M227.2 366.5 h-2 M41.8 361 h2 M227.2 361 h-2 M41.8 355.5 h2 M227.2 355.5 h-2 M41.8 350 h2 M227.2 350 h-2 M41.8 344.5 h2 M227.2 344.5 h-2 M41.8 339 h2 M227.2 339 h-2 M41.8 333.5 h2 M227.2 333.5 h-2 M41.8 328 h2 M227.2 328 h-2 M41.8 322.5 h2 M227.2 322.5 h-2 M41.8 317 h2 M227.2 317 h-2 M41.8 311.5 h2 M227.2 311.5 h-2 M41.8 306 h2 M227.2 306 h-2 M41.8 300.5 h2 M227.2 300.5 h-2 M41.8 295 h2 M227.2 295 h-2 M41.8 289.5 h2 M227.2 289.5 h-2 M41.8 284 h2 M227.2 284 h-2 M41.8 278.5 h2 M227.2 278.5 h-2 M41.8 273 h2 M227.2 273 h-2 M41.8 267.5 h2 M227.2 267.5 h-2 M41.8 262 h2 M227.2 262 h-2 M41.8 256.5 h2 M227.2 256.5 h-2 M41.8 416 h3 M227.2 416 h-3 M41.8 394 h3 M227.2 394 h-3 M41.8 372 h3 M227.2 372 h-3 M41.8 350 h3 M227.2 350 h-3 M41.8 328 h3 M227.2 328 h-3 M41.8 306 h3 M227.2 306 h-3 M41.8 284 h3 M227.2 284 h-3 M41.8 262 h3 M227.2 262 h-3" stroke="#000" stroke-width="0.9" fill="none"/>
<rect x="41.9" y="253.8" width="185.3" height="170.3" fill="none" stroke="#000" stroke-width="1.7"/>
<text transform="translate(48.8,440.4) scale(0.78,1)" text-anchor="middle" font-family="Liberation Sans, sans-serif" font-weight="bold" font-size="12">–3</text>
<text transform="translate(77.3,440.4) scale(0.78,1)" text-anchor="middle" font-family="Liberation Sans, sans-serif" font-weight="bold" font-size="12">–2</text>
<text transform="translate(105.8,440.4) scale(0.78,1)" text-anchor="middle" font-family="Liberation Sans, sans-serif" font-weight="bold" font-size="12">–1</text>
<text transform="translate(134,440.4) scale(0.78,1)" text-anchor="middle" font-family="Liberation Sans, sans-serif" font-weight="bold" font-size="12">0</text>
<text transform="translate(162.5,440.4) scale(0.78,1)" text-anchor="middle" font-family="Liberation Sans, sans-serif" font-weight="bold" font-size="12">1</text>
<text transform="translate(191,440.4) scale(0.78,1)" text-anchor="middle" font-family="Liberation Sans, sans-serif" font-weight="bold" font-size="12">2</text>
<text transform="translate(219.5,440.4) scale(0.78,1)" text-anchor="middle" font-family="Liberation Sans, sans-serif" font-weight="bold" font-size="12">3</text>
<text transform="translate(39.4,420.3) scale(0.78,1)" text-anchor="end" font-family="Liberation Sans, sans-serif" font-weight="bold" font-size="12">0</text>
<text transform="translate(39.4,398.3) scale(0.78,1)" text-anchor="end" font-family="Liberation Sans, sans-serif" font-weight="bold" font-size="12">2</text>
<text transform="translate(39.4,376.3) scale(0.78,1)" text-anchor="end" font-family="Liberation Sans, sans-serif" font-weight="bold" font-size="12">4</text>
<text transform="translate(39.4,354.3) scale(0.78,1)" text-anchor="end" font-family="Liberation Sans, sans-serif" font-weight="bold" font-size="12">6</text>
<text transform="translate(39.4,332.3) scale(0.78,1)" text-anchor="end" font-family="Liberation Sans, sans-serif" font-weight="bold" font-size="12">8</text>
<text transform="translate(39.4,310.3) scale(0.78,1)" text-anchor="end" font-family="Liberation Sans, sans-serif" font-weight="bold" font-size="12">10</text>
<text transform="translate(39.4,288.3) scale(0.78,1)" text-anchor="end" font-family="Liberation Sans, sans-serif" font-weight="bold" font-size="12">12</text>
<text transform="translate(39.4,266.3) scale(0.78,1)" text-anchor="end" font-family="Liberation Sans, sans-serif" font-weight="bold" font-size="12">14</text>
<text transform="translate(134,461.6) scale(0.85,1)" text-anchor="middle" font-family="Liberation Sans, sans-serif" font-weight="bold" font-size="8.5">x</text>
<text transform="translate(22.6,338) rotate(-90)" text-anchor="middle" font-family="Liberation Sans, sans-serif" font-weight="bold" font-size="7.2"><tspan font-style="italic">U</tspan><tspan font-size="5" dy="1.3">3</tspan><tspan dy="-1.3">(x, t)</tspan></text>
<path d="M268.8 424.2 v-2 M268.8 253.8 v2 M277.8 424.2 v-2 M277.8 253.8 v2 M286.8 424.2 v-2 M286.8 253.8 v2 M295.8 424.2 v-2 M295.8 253.8 v2 M304.8 424.2 v-2 M304.8 253.8 v2 M313.8 424.2 v-2 M313.8 253.8 v2 M322.8 424.2 v-2 M322.8 253.8 v2 M331.8 424.2 v-2 M331.8 253.8 v2 M340.8 424.2 v-2 M340.8 253.8 v2 M349.8 424.2 v-2 M349.8 253.8 v2 M358.8 424.2 v-2 M358.8 253.8 v2 M367.8 424.2 v-2 M367.8 253.8 v2 M376.8 424.2 v-2 M376.8 253.8 v2 M385.8 424.2 v-2 M385.8 253.8 v2 M394.8 424.2 v-2 M394.8 253.8 v2 M403.8 424.2 v-2 M403.8 253.8 v2 M412.8 424.2 v-2 M412.8 253.8 v2 M421.8 424.2 v-2 M421.8 253.8 v2 M430.8 424.2 v-2 M430.8 253.8 v2 M439.8 424.2 v-2 M439.8 253.8 v2 M448.8 424.2 v-2 M448.8 253.8 v2 M286.8 424.2 v-3 M286.8 253.8 v3 M322.8 424.2 v-3 M322.8 253.8 v3 M358.8 424.2 v-3 M358.8 253.8 v3 M394.8 424.2 v-3 M394.8 253.8 v3 M430.8 424.2 v-3 M430.8 253.8 v3 M266.4 416 h2 M452.2 416 h-2 M266.4 408.6 h2 M452.2 408.6 h-2 M266.4 401.1 h2 M452.2 401.1 h-2 M266.4 393.6 h2 M452.2 393.6 h-2 M266.4 386.2 h2 M452.2 386.2 h-2 M266.4 378.8 h2 M452.2 378.8 h-2 M266.4 371.3 h2 M452.2 371.3 h-2 M266.4 363.9 h2 M452.2 363.9 h-2 M266.4 356.4 h2 M452.2 356.4 h-2 M266.4 348.9 h2 M452.2 348.9 h-2 M266.4 341.5 h2 M452.2 341.5 h-2 M266.4 334.1 h2 M452.2 334.1 h-2 M266.4 326.6 h2 M452.2 326.6 h-2 M266.4 319.1 h2 M452.2 319.1 h-2 M266.4 311.7 h2 M452.2 311.7 h-2 M266.4 304.2 h2 M452.2 304.2 h-2 M266.4 296.8 h2 M452.2 296.8 h-2 M266.4 289.4 h2 M452.2 289.4 h-2 M266.4 281.9 h2 M452.2 281.9 h-2 M266.4 274.4 h2 M452.2 274.4 h-2 M266.4 267 h2 M452.2 267 h-2 M266.4 259.5 h2 M452.2 259.5 h-2 M266.4 416 h3 M452.2 416 h-3 M266.4 378.8 h3 M452.2 378.8 h-3 M266.4 341.5 h3 M452.2 341.5 h-3 M266.4 304.2 h3 M452.2 304.2 h-3 M266.4 267 h3 M452.2 267 h-3" stroke="#000" stroke-width="0.9" fill="none"/>
<rect x="266.5" y="253.8" width="185.7" height="170.3" fill="none" stroke="#000" stroke-width="1.7"/>
<text transform="translate(287.1,440.4) scale(0.78,1)" text-anchor="middle" font-family="Liberation Sans, sans-serif" font-weight="bold" font-size="12">–4</text>
<text transform="translate(323.1,440.4) scale(0.78,1)" text-anchor="middle" font-family="Liberation Sans, sans-serif" font-weight="bold" font-size="12">–2</text>
<text transform="translate(358.8,440.4) scale(0.78,1)" text-anchor="middle" font-family="Liberation Sans, sans-serif" font-weight="bold" font-size="12">0</text>
<text transform="translate(394.8,440.4) scale(0.78,1)" text-anchor="middle" font-family="Liberation Sans, sans-serif" font-weight="bold" font-size="12">2</text>
<text transform="translate(430.8,440.4) scale(0.78,1)" text-anchor="middle" font-family="Liberation Sans, sans-serif" font-weight="bold" font-size="12">4</text>
<text transform="translate(264,420.3) scale(0.78,1)" text-anchor="end" font-family="Liberation Sans, sans-serif" font-weight="bold" font-size="12">0</text>
<text transform="translate(264,383.1) scale(0.78,1)" text-anchor="end" font-family="Liberation Sans, sans-serif" font-weight="bold" font-size="12">5</text>
<text transform="translate(264,345.8) scale(0.78,1)" text-anchor="end" font-family="Liberation Sans, sans-serif" font-weight="bold" font-size="12">10</text>
<text transform="translate(264,308.6) scale(0.78,1)" text-anchor="end" font-family="Liberation Sans, sans-serif" font-weight="bold" font-size="12">15</text>
<text transform="translate(264,271.3) scale(0.78,1)" text-anchor="end" font-family="Liberation Sans, sans-serif" font-weight="bold" font-size="12">20</text>
<text transform="translate(359,461.6) scale(0.85,1)" text-anchor="middle" font-family="Liberation Sans, sans-serif" font-weight="bold" font-size="8.5">x</text>
<text transform="translate(248.1,338) rotate(-90)" text-anchor="middle" font-family="Liberation Sans, sans-serif" font-weight="bold" font-size="7.2"><tspan font-style="italic">U</tspan><tspan font-size="5" dy="1.3">3</tspan><tspan dy="-1.3">(x, t)</tspan></text>
<path d="M493.6 424.2 v-2 M493.6 253.8 v2 M502.6 424.2 v-2 M502.6 253.8 v2 M511.6 424.2 v-2 M511.6 253.8 v2 M520.6 424.2 v-2 M520.6 253.8 v2 M529.6 424.2 v-2 M529.6 253.8 v2 M538.6 424.2 v-2 M538.6 253.8 v2 M547.6 424.2 v-2 M547.6 253.8 v2 M556.6 424.2 v-2 M556.6 253.8 v2 M565.6 424.2 v-2 M565.6 253.8 v2 M574.6 424.2 v-2 M574.6 253.8 v2 M583.6 424.2 v-2 M583.6 253.8 v2 M592.6 424.2 v-2 M592.6 253.8 v2 M601.6 424.2 v-2 M601.6 253.8 v2 M610.6 424.2 v-2 M610.6 253.8 v2 M619.6 424.2 v-2 M619.6 253.8 v2 M628.6 424.2 v-2 M628.6 253.8 v2 M637.6 424.2 v-2 M637.6 253.8 v2 M646.6 424.2 v-2 M646.6 253.8 v2 M655.6 424.2 v-2 M655.6 253.8 v2 M664.6 424.2 v-2 M664.6 253.8 v2 M673.6 424.2 v-2 M673.6 253.8 v2 M511.6 424.2 v-3 M511.6 253.8 v3 M547.6 424.2 v-3 M547.6 253.8 v3 M583.6 424.2 v-3 M583.6 253.8 v3 M619.6 424.2 v-3 M619.6 253.8 v3 M655.6 424.2 v-3 M655.6 253.8 v3 M491.4 416 h2 M677.2 416 h-2 M491.4 409.9 h2 M677.2 409.9 h-2 M491.4 403.8 h2 M677.2 403.8 h-2 M491.4 397.6 h2 M677.2 397.6 h-2 M491.4 391.5 h2 M677.2 391.5 h-2 M491.4 385.4 h2 M677.2 385.4 h-2 M491.4 379.2 h2 M677.2 379.2 h-2 M491.4 373.1 h2 M677.2 373.1 h-2 M491.4 367 h2 M677.2 367 h-2 M491.4 360.9 h2 M677.2 360.9 h-2 M491.4 354.8 h2 M677.2 354.8 h-2 M491.4 348.6 h2 M677.2 348.6 h-2 M491.4 342.5 h2 M677.2 342.5 h-2 M491.4 336.4 h2 M677.2 336.4 h-2 M491.4 330.2 h2 M677.2 330.2 h-2 M491.4 324.1 h2 M677.2 324.1 h-2 M491.4 318 h2 M677.2 318 h-2 M491.4 311.9 h2 M677.2 311.9 h-2 M491.4 305.8 h2 M677.2 305.8 h-2 M491.4 299.6 h2 M677.2 299.6 h-2 M491.4 293.5 h2 M677.2 293.5 h-2 M491.4 287.4 h2 M677.2 287.4 h-2 M491.4 281.2 h2 M677.2 281.2 h-2 M491.4 275.1 h2 M677.2 275.1 h-2 M491.4 269 h2 M677.2 269 h-2 M491.4 262.9 h2 M677.2 262.9 h-2 M491.4 256.8 h2 M677.2 256.8 h-2 M491.4 416 h3 M677.2 416 h-3 M491.4 391.5 h3 M677.2 391.5 h-3 M491.4 367 h3 M677.2 367 h-3 M491.4 342.5 h3 M677.2 342.5 h-3 M491.4 318 h3 M677.2 318 h-3 M491.4 293.5 h3 M677.2 293.5 h-3 M491.4 269 h3 M677.2 269 h-3" stroke="#000" stroke-width="0.9" fill="none"/>
<rect x="491.5" y="253.8" width="185.7" height="170.3" fill="none" stroke="#000" stroke-width="1.7"/>
<text transform="translate(511.9,440.4) scale(0.78,1)" text-anchor="middle" font-family="Liberation Sans, sans-serif" font-weight="bold" font-size="12">–4</text>
<text transform="translate(547.9,440.4) scale(0.78,1)" text-anchor="middle" font-family="Liberation Sans, sans-serif" font-weight="bold" font-size="12">–2</text>
<text transform="translate(583.6,440.4) scale(0.78,1)" text-anchor="middle" font-family="Liberation Sans, sans-serif" font-weight="bold" font-size="12">0</text>
<text transform="translate(619.6,440.4) scale(0.78,1)" text-anchor="middle" font-family="Liberation Sans, sans-serif" font-weight="bold" font-size="12">2</text>
<text transform="translate(655.6,440.4) scale(0.78,1)" text-anchor="middle" font-family="Liberation Sans, sans-serif" font-weight="bold" font-size="12">4</text>
<text transform="translate(489,420.3) scale(0.78,1)" text-anchor="end" font-family="Liberation Sans, sans-serif" font-weight="bold" font-size="12">0</text>
<text transform="translate(489,395.8) scale(0.78,1)" text-anchor="end" font-family="Liberation Sans, sans-serif" font-weight="bold" font-size="12">2</text>
<text transform="translate(489,371.3) scale(0.78,1)" text-anchor="end" font-family="Liberation Sans, sans-serif" font-weight="bold" font-size="12">4</text>
<text transform="translate(489,346.8) scale(0.78,1)" text-anchor="end" font-family="Liberation Sans, sans-serif" font-weight="bold" font-size="12">6</text>
<text transform="translate(489,322.3) scale(0.78,1)" text-anchor="end" font-family="Liberation Sans, sans-serif" font-weight="bold" font-size="12">8</text>
<text transform="translate(489,297.8) scale(0.78,1)" text-anchor="end" font-family="Liberation Sans, sans-serif" font-weight="bold" font-size="12">10</text>
<text transform="translate(489,273.3) scale(0.78,1)" text-anchor="end" font-family="Liberation Sans, sans-serif" font-weight="bold" font-size="12">12</text>
<text transform="translate(584,461.6) scale(0.85,1)" text-anchor="middle" font-family="Liberation Sans, sans-serif" font-weight="bold" font-size="8.5">x</text>
<text transform="translate(473.1,338) rotate(-90)" text-anchor="middle" font-family="Liberation Sans, sans-serif" font-weight="bold" font-size="7.2"><tspan font-style="italic">U</tspan><tspan font-size="5" dy="1.3">3</tspan><tspan dy="-1.3">(x, t)</tspan></text>
<text x="56.6" y="226" font-family="Liberation Serif, serif" font-size="14.2" textLength="19.2" lengthAdjust="spacingAndGlyphs">(a)</text>
<text x="84.1" y="226" font-family="Liberation Serif, serif" font-size="14.5" font-style="italic" textLength="9.6" lengthAdjust="spacingAndGlyphs">β</text>
<text x="99.1" y="226.6" font-family="Liberation Serif, serif" font-size="15" textLength="11.6" lengthAdjust="spacingAndGlyphs">=</text>
<text x="116.1" y="226" font-family="Liberation Serif, serif" font-size="14.2" textLength="33" lengthAdjust="spacingAndGlyphs">0.49.</text>
<text x="327.6" y="226" font-family="Liberation Serif, serif" font-size="14.2" textLength="19.2" lengthAdjust="spacingAndGlyphs">(b)</text>
<text x="356" y="226" font-family="Liberation Serif, serif" font-size="14.5" font-style="italic" textLength="9.6" lengthAdjust="spacingAndGlyphs">β</text>
<text x="370.4" y="226.6" font-family="Liberation Serif, serif" font-size="15" textLength="11.6" lengthAdjust="spacingAndGlyphs">=</text>
<text x="388" y="226" font-family="Liberation Serif, serif" font-size="14.2" textLength="6" lengthAdjust="spacingAndGlyphs">1</text>
<text x="540.6" y="226" font-family="Liberation Serif, serif" font-size="14.2" textLength="19.2" lengthAdjust="spacingAndGlyphs">(c)</text>
<text x="567" y="226" font-family="Liberation Serif, serif" font-size="14.5" font-style="italic" textLength="9.6" lengthAdjust="spacingAndGlyphs">β</text>
<text x="582" y="226.6" font-family="Liberation Serif, serif" font-size="15" textLength="11.6" lengthAdjust="spacingAndGlyphs">=</text>
<text x="598.6" y="226" font-family="Liberation Serif, serif" font-size="14.2" textLength="33" lengthAdjust="spacingAndGlyphs">0.43.</text>
<text x="73" y="489" font-family="Liberation Serif, serif" font-size="14.2" textLength="19.2" lengthAdjust="spacingAndGlyphs">(d)</text>
<text x="101" y="489" font-family="Liberation Serif, serif" font-size="14.5" font-style="italic" textLength="9.6" lengthAdjust="spacingAndGlyphs">α</text>
<text x="116.6" y="489.6" font-family="Liberation Serif, serif" font-size="15" textLength="11.6" lengthAdjust="spacingAndGlyphs">=</text>
<text x="133.6" y="489" font-family="Liberation Serif, serif" font-size="14.2" textLength="32" lengthAdjust="spacingAndGlyphs">0.49.</text>
<text x="310" y="489" font-family="Liberation Serif, serif" font-size="14.2" textLength="19.2" lengthAdjust="spacingAndGlyphs">(e)</text>
<text x="337.5" y="489" font-family="Liberation Serif, serif" font-size="14.5" font-style="italic" textLength="9.6" lengthAdjust="spacingAndGlyphs">β</text>
<text x="352.5" y="489.6" font-family="Liberation Serif, serif" font-size="15" textLength="11.6" lengthAdjust="spacingAndGlyphs">=</text>
<text x="369.5" y="489" font-family="Liberation Serif, serif" font-size="14.2" textLength="9.4" lengthAdjust="spacingAndGlyphs">1.</text>
<text x="524" y="489" font-family="Liberation Serif, serif" font-size="14.2" textLength="19.2" lengthAdjust="spacingAndGlyphs">(f)</text>
<text x="551.5" y="489" font-family="Liberation Serif, serif" font-size="14.5" font-style="italic" textLength="9.6" lengthAdjust="spacingAndGlyphs">β</text>
<text x="566.5" y="489.6" font-family="Liberation Serif, serif" font-size="15" textLength="11.6" lengthAdjust="spacingAndGlyphs">=</text>
<text x="583.5" y="489" font-family="Liberation Serif, serif" font-size="14.2" textLength="33" lengthAdjust="spacingAndGlyphs">0.43.</text>
</svg>
</body></html>
